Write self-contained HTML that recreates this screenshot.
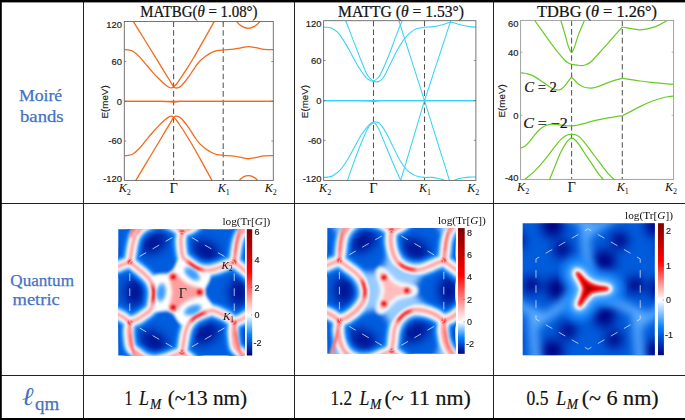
<!DOCTYPE html>
<html><head><meta charset="utf-8"><title>Moire bands and quantum metric</title>
<style>
html,body{margin:0;padding:0;background:#fff;}
body{width:685px;height:420px;overflow:hidden;font-family:"Liberation Sans",sans-serif;}
svg{display:block;}
</style></head><body>
<svg width="685" height="420" viewBox="0 0 685 420">
<rect width="685" height="420" fill="#fff"/>
<g stroke="#222" stroke-width="1" shape-rendering="crispEdges">
<line x1="83.5" y1="0" x2="83.5" y2="420"/>
<line x1="294.5" y1="0" x2="294.5" y2="420"/>
<line x1="493.5" y1="0" x2="493.5" y2="420"/>
<line x1="0" y1="203.5" x2="685" y2="203.5"/>
<line x1="0" y1="375.5" x2="685" y2="375.5"/>
</g>
<rect x="0" y="0" width="685" height="2.4" fill="#000"/>
<rect x="0" y="0" width="1.8" height="420" fill="#000"/>
<rect x="0" y="418" width="685" height="2" fill="#000"/>
<text x="18.90" y="101.40" font-family="Liberation Serif, serif" font-size="17.00" fill="#4472C4" textLength="43.30" lengthAdjust="spacingAndGlyphs" stroke="#4472C4" stroke-width="0.25" xml:space="preserve" >Moiré</text>
<text x="20.00" y="122.10" font-family="Liberation Serif, serif" font-size="17.00" fill="#4472C4" textLength="43.60" lengthAdjust="spacingAndGlyphs" stroke="#4472C4" stroke-width="0.25" xml:space="preserve" >bands</text>
<text x="10.30" y="285.70" font-family="Liberation Serif, serif" font-size="17.00" fill="#4472C4" textLength="63.70" lengthAdjust="spacingAndGlyphs" stroke="#4472C4" stroke-width="0.25" xml:space="preserve" >Quantum</text>
<text x="12.60" y="304.60" font-family="Liberation Serif, serif" font-size="17.00" fill="#4472C4" textLength="47.10" lengthAdjust="spacingAndGlyphs" stroke="#4472C4" stroke-width="0.25" xml:space="preserve" >metric</text>
<text x="21.80" y="405.20" font-family="Liberation Serif, serif" font-size="25.50" fill="#4472C4" font-style="italic" textLength="11.50" lengthAdjust="spacingAndGlyphs" xml:space="preserve" >ℓ</text>
<text x="35.00" y="409.60" font-family="Liberation Serif, serif" font-size="19.50" fill="#4472C4" textLength="24.20" lengthAdjust="spacingAndGlyphs" stroke="#4472C4" stroke-width="0.25" xml:space="preserve" >qm</text>
<text x="124.60" y="405.20" font-family="Liberation Serif, serif" font-size="20.60" fill="#111" textLength="8.00" lengthAdjust="spacingAndGlyphs" stroke="#111" stroke-width="0.20" xml:space="preserve" >1</text>
<text x="138.90" y="405.20" font-family="Liberation Serif, serif" font-size="20.60" fill="#111" font-style="italic" textLength="9.90" lengthAdjust="spacingAndGlyphs" stroke="#111" stroke-width="0.20" xml:space="preserve" >L</text>
<text x="150.00" y="409.30" font-family="Liberation Serif, serif" font-size="14.20" fill="#111" font-style="italic" textLength="11.20" lengthAdjust="spacingAndGlyphs" stroke="#111" stroke-width="0.20" xml:space="preserve" >M</text>
<text x="167.80" y="405.20" font-family="Liberation Serif, serif" font-size="20.60" fill="#111" textLength="79.30" lengthAdjust="spacingAndGlyphs" stroke="#111" stroke-width="0.20" xml:space="preserve" >(~13 nm)</text>
<text x="330.50" y="405.20" font-family="Liberation Serif, serif" font-size="20.60" fill="#111" textLength="21.50" lengthAdjust="spacingAndGlyphs" stroke="#111" stroke-width="0.20" xml:space="preserve" >1.2</text>
<text x="359.40" y="405.20" font-family="Liberation Serif, serif" font-size="20.60" fill="#111" font-style="italic" textLength="9.90" lengthAdjust="spacingAndGlyphs" stroke="#111" stroke-width="0.20" xml:space="preserve" >L</text>
<text x="370.00" y="409.30" font-family="Liberation Serif, serif" font-size="14.20" fill="#111" font-style="italic" textLength="11.20" lengthAdjust="spacingAndGlyphs" stroke="#111" stroke-width="0.20" xml:space="preserve" >M</text>
<text x="384.40" y="405.20" font-family="Liberation Serif, serif" font-size="20.60" fill="#111" textLength="86.40" lengthAdjust="spacingAndGlyphs" stroke="#111" stroke-width="0.20" xml:space="preserve" >(~ 11 nm)</text>
<text x="526.50" y="405.20" font-family="Liberation Serif, serif" font-size="20.60" fill="#111" textLength="21.90" lengthAdjust="spacingAndGlyphs" stroke="#111" stroke-width="0.20" xml:space="preserve" >0.5</text>
<text x="556.20" y="405.20" font-family="Liberation Serif, serif" font-size="20.60" fill="#111" font-style="italic" textLength="9.90" lengthAdjust="spacingAndGlyphs" stroke="#111" stroke-width="0.20" xml:space="preserve" >L</text>
<text x="566.80" y="409.30" font-family="Liberation Serif, serif" font-size="14.20" fill="#111" font-style="italic" textLength="11.20" lengthAdjust="spacingAndGlyphs" stroke="#111" stroke-width="0.20" xml:space="preserve" >M</text>
<text x="581.70" y="405.20" font-family="Liberation Serif, serif" font-size="20.60" fill="#111" textLength="77.00" lengthAdjust="spacingAndGlyphs" stroke="#111" stroke-width="0.20" xml:space="preserve" >(~ 6 nm)</text>
<clipPath id="c124"><rect x="124.30" y="21.50" width="149.00" height="158.90"/></clipPath>
<g stroke="#555" stroke-width="1.05" stroke-dasharray="5.6,3.1">
<line x1="173.60" y1="21.50" x2="173.60" y2="180.40"/>
<line x1="223.20" y1="21.50" x2="223.20" y2="180.40"/>
</g>
<g clip-path="url(#c124)" fill="none" stroke="#F26A1B" stroke-width="1.30" stroke-linejoin="round">
<path d="M124.30,49.70C125.00,49.73 127.07,49.65 128.50,49.90C129.93,50.15 131.10,50.08 132.90,51.20C134.70,52.32 137.17,54.45 139.30,56.60C141.43,58.75 143.57,61.60 145.70,64.10C147.83,66.60 149.95,69.20 152.10,71.60C154.25,74.00 156.45,76.37 158.60,78.50C160.75,80.63 163.27,82.93 165.00,84.40C166.73,85.87 167.90,86.72 169.00,87.30C170.10,87.88 170.83,87.98 171.60,87.90C172.37,87.82 172.78,87.45 173.60,86.80C174.42,86.15 175.43,85.28 176.50,84.00C177.57,82.72 178.35,81.53 180.00,79.10C181.65,76.67 184.25,72.75 186.40,69.40C188.55,66.05 190.65,62.75 192.90,59.00C195.15,55.25 196.33,53.17 199.90,46.90C203.47,40.63 210.95,27.38 214.30,21.40C217.65,15.42 219.05,12.73 220.00,11.00"/>
<path d="M127.50,11.00C128.47,12.73 130.98,17.48 133.30,21.40C135.62,25.32 138.62,29.98 141.40,34.50C144.18,39.02 147.13,43.85 150.00,48.50C152.87,53.15 156.10,58.33 158.60,62.40C161.10,66.47 163.03,69.72 165.00,72.90C166.97,76.08 169.00,79.22 170.40,81.50C171.80,83.78 172.53,85.53 173.40,86.60C174.27,87.67 174.75,87.73 175.60,87.90C176.45,88.07 177.42,88.08 178.50,87.60C179.58,87.12 180.42,86.78 182.10,85.00C183.78,83.22 186.45,79.85 188.60,76.90C190.75,73.95 193.12,69.95 195.00,67.30C196.88,64.65 198.07,62.88 199.90,61.00C201.73,59.12 204.07,57.38 206.00,56.00C207.93,54.62 209.67,53.58 211.50,52.70C213.33,51.82 215.05,51.17 217.00,50.70C218.95,50.23 220.42,50.17 223.20,49.90C225.98,49.63 230.57,49.47 233.70,49.10C236.83,48.73 239.55,48.12 242.00,47.70C244.45,47.28 246.08,46.60 248.40,46.60C250.72,46.60 253.27,47.23 255.90,47.70C258.53,48.17 261.25,49.07 264.20,49.40C267.15,49.73 272.03,49.65 273.60,49.70"/>
<path d="M233.50,15.00C234.00,16.07 235.08,19.50 236.50,21.40C237.92,23.30 240.02,25.25 242.00,26.40C243.98,27.55 246.32,28.30 248.40,28.30C250.48,28.30 252.57,27.55 254.50,26.40C256.43,25.25 258.58,23.30 260.00,21.40C261.42,19.50 262.50,16.07 263.00,15.00"/>
<path d="M124.30,155.55C125.00,155.51 127.07,155.60 128.50,155.34C129.93,155.08 131.10,155.15 132.90,154.00C134.70,152.85 137.17,150.65 139.30,148.44C141.43,146.22 143.57,143.29 145.70,140.71C147.83,138.14 149.95,135.46 152.10,132.99C154.25,130.52 156.45,128.08 158.60,125.88C160.75,123.68 163.27,121.31 165.00,119.80C166.73,118.29 167.90,117.42 169.00,116.82C170.10,116.22 170.83,116.11 171.60,116.20C172.37,116.28 172.78,116.66 173.60,117.33C174.42,118.00 175.43,118.89 176.50,120.22C177.57,121.54 178.35,122.76 180.00,125.26C181.65,127.77 184.25,131.80 186.40,135.25C188.55,138.70 190.65,142.10 192.90,145.97C195.15,149.83 196.33,151.97 199.90,158.43C203.47,164.88 210.95,178.53 214.30,184.69C217.65,190.86 219.05,193.62 220.00,195.41"/>
<path d="M127.50,195.41C128.47,193.62 130.98,188.73 133.30,184.69C135.62,180.66 138.62,175.85 141.40,171.20C144.18,166.55 147.13,161.57 150.00,156.78C152.87,151.99 156.10,146.65 158.60,142.46C161.10,138.28 163.03,134.93 165.00,131.65C166.97,128.37 169.00,125.14 170.40,122.79C171.80,120.44 172.53,118.64 173.40,117.54C174.27,116.44 174.75,116.37 175.60,116.20C176.45,116.03 177.42,116.01 178.50,116.51C179.58,117.01 180.42,117.35 182.10,119.19C183.78,121.02 186.45,124.49 188.60,127.53C190.75,130.57 193.12,134.69 195.00,137.42C196.88,140.15 198.07,141.97 199.90,143.91C201.73,145.85 204.07,147.63 206.00,149.06C207.93,150.48 209.67,151.55 211.50,152.46C213.33,153.36 215.05,154.03 217.00,154.52C218.95,155.00 220.42,155.06 223.20,155.34C225.98,155.61 230.57,155.79 233.70,156.16C236.83,156.54 239.55,157.18 242.00,157.61C244.45,158.03 246.08,158.74 248.40,158.74C250.72,158.74 253.27,158.09 255.90,157.61C258.53,157.12 261.25,156.20 264.20,155.85C267.15,155.51 272.03,155.60 273.60,155.55"/>
<path d="M236.50,187.00C236.98,185.90 238.23,182.08 239.40,180.40C240.57,178.72 242.02,177.68 243.50,176.90C244.98,176.12 246.68,175.70 248.30,175.70C249.92,175.70 251.67,176.12 253.20,176.90C254.73,177.68 256.28,178.72 257.50,180.40C258.72,182.08 260.00,185.90 260.50,187.00"/>
<path d="M124.30,101.30C130.25,101.31 152.72,101.28 160.00,101.35C167.28,101.42 165.75,101.58 168.00,101.70C170.25,101.83 171.67,102.10 173.50,102.10C175.33,102.10 176.58,101.83 179.00,101.70C181.42,101.58 172.23,101.42 188.00,101.35C203.77,101.28 259.33,101.31 273.60,101.30"/>
<path d="M124.30,101.30C149.18,101.30 248.72,101.30 273.60,101.30"/>
</g>
<rect x="124.30" y="21.50" width="149.00" height="158.90" fill="none" stroke="#666" stroke-width="0.9"/>
<g stroke="#666" stroke-width="0.7">
<line x1="124.30" y1="61.50" x2="126.30" y2="61.50"/>
<line x1="271.30" y1="61.50" x2="273.30" y2="61.50"/>
<line x1="124.30" y1="101.20" x2="126.30" y2="101.20"/>
<line x1="271.30" y1="101.20" x2="273.30" y2="101.20"/>
<line x1="124.30" y1="141.00" x2="126.30" y2="141.00"/>
<line x1="271.30" y1="141.00" x2="273.30" y2="141.00"/>
<line x1="173.60" y1="178.40" x2="173.60" y2="180.40"/>
<line x1="173.60" y1="21.50" x2="173.60" y2="23.50"/>
<line x1="223.20" y1="178.40" x2="223.20" y2="180.40"/>
<line x1="223.20" y1="21.50" x2="223.20" y2="23.50"/>
</g>
<g font-family="Liberation Sans, sans-serif" font-size="9.4" fill="#1c1c1c" stroke="#1c1c1c" stroke-width="0.18" text-anchor="end">
<text x="121.90" y="28.35">120</text>
<text x="121.90" y="64.85">60</text>
<text x="121.90" y="104.55">0</text>
<text x="121.90" y="144.35">-60</text>
<text x="121.90" y="182.25">-120</text>
</g>
<text transform="translate(108.00,101.95) rotate(-90)" font-family="Liberation Sans, sans-serif" font-size="9.8" fill="#1c1c1c" stroke="#1c1c1c" stroke-width="0.15" text-anchor="middle">E(meV)</text>
<text x="124.80" y="192.30" font-family="Liberation Serif, serif" font-size="12.2" fill="#111" text-anchor="middle"><tspan font-style="italic">K</tspan><tspan font-size="8" dy="2.4">2</tspan></text>
<text x="223.70" y="192.30" font-family="Liberation Serif, serif" font-size="12.2" fill="#111" text-anchor="middle"><tspan font-style="italic">K</tspan><tspan font-size="8" dy="2.4">1</tspan></text>
<text x="270.70" y="192.30" font-family="Liberation Serif, serif" font-size="12.2" fill="#111" text-anchor="middle"><tspan font-style="italic">K</tspan><tspan font-size="8" dy="2.4">2</tspan></text>
<text x="173.60" y="192.80" font-family="Liberation Serif, serif" font-size="14.5" fill="#111" text-anchor="middle">Γ</text>
<text x="140.30" y="17.10" font-family="Liberation Serif, serif" font-size="16.2" fill="#111" stroke="#111" stroke-width="0.22" textLength="117.20" lengthAdjust="spacingAndGlyphs" xml:space="preserve">MATBG(<tspan font-style="italic">θ</tspan> = 1.08°)</text>
<clipPath id="c323"><rect x="323.60" y="20.70" width="152.30" height="159.70"/></clipPath>
<g stroke="#555" stroke-width="1.05" stroke-dasharray="5.6,3.1">
<line x1="373.50" y1="20.70" x2="373.50" y2="180.40"/>
<line x1="424.50" y1="20.70" x2="424.50" y2="180.40"/>
</g>
<g clip-path="url(#c323)" fill="none" stroke="#35D3F5" stroke-width="1.05" stroke-linejoin="round">
<path d="M323.58,27.18C324.27,27.21 326.35,27.14 327.74,27.32C329.13,27.51 330.28,27.48 331.90,28.29C333.52,29.10 335.37,29.96 337.45,32.18C339.53,34.40 342.07,37.96 344.38,41.61C346.69,45.26 349.01,49.93 351.32,54.09C353.63,58.25 355.94,62.83 358.25,66.57C360.56,70.32 363.34,74.29 365.19,76.56C367.04,78.83 368.19,79.38 369.35,80.17C370.50,80.95 371.29,81.18 372.12,81.28C372.95,81.37 373.51,81.18 374.34,80.72C375.17,80.26 376.10,79.57 377.12,78.50C378.13,77.44 378.50,78.18 380.44,74.34C382.39,70.50 386.22,61.72 388.77,55.48C391.31,49.24 393.39,42.90 395.70,36.89C398.01,30.88 401.02,23.49 402.64,19.42C404.25,15.35 404.95,13.64 405.41,12.48"/>
<path d="M343.00,13.87C343.46,15.03 344.15,16.64 345.77,20.80C347.39,24.97 350.39,32.82 352.70,38.83C355.02,44.85 357.33,51.09 359.64,56.87C361.95,62.64 364.72,69.81 366.57,73.51C368.42,77.21 369.58,77.81 370.74,79.06C371.89,80.31 372.58,80.54 373.51,81.00C374.43,81.46 375.36,81.78 376.28,81.83C377.21,81.88 377.90,81.97 379.06,81.28C380.21,80.58 381.37,80.49 383.22,77.67C385.07,74.85 387.84,68.89 390.15,64.36C392.46,59.82 394.78,54.65 397.09,50.49C399.40,46.32 401.71,42.44 404.02,39.39C406.33,36.34 408.88,33.93 410.96,32.18C413.04,30.42 414.24,29.68 416.50,28.85C418.77,28.02 421.78,27.55 424.55,27.18C427.32,26.81 430.33,27.00 433.15,26.63C435.97,26.26 438.93,25.61 441.47,24.97C444.01,24.32 446.79,23.21 448.40,22.75C450.02,22.28 450.02,22.10 451.18,22.19C452.33,22.28 453.49,22.79 455.34,23.30C457.19,23.81 459.96,24.69 462.27,25.24C464.59,25.80 466.85,26.30 469.21,26.63C471.57,26.96 475.22,27.14 476.42,27.24"/>
<path d="M398.20,18.70 L424.50,100.60 L450.07,182.40"/>
<path d="M451.46,18.70 L424.50,100.60 L400.14,182.40"/>
<path d="M323.58,177.39C324.27,177.34 326.12,177.43 327.74,177.11C329.36,176.78 331.21,176.65 333.29,175.44C335.37,174.24 337.91,172.44 340.22,169.90C342.53,167.35 344.85,163.89 347.16,160.19C349.47,156.49 351.78,151.87 354.09,147.70C356.40,143.54 358.71,138.83 361.03,135.22C363.34,131.62 366.20,128.15 367.96,126.07C369.72,123.99 370.50,123.43 371.57,122.74C372.63,122.05 373.42,122.00 374.34,121.91C375.27,121.81 376.10,121.77 377.12,122.18C378.13,122.60 378.96,122.69 380.44,124.40C381.92,126.11 383.91,128.80 385.99,132.45C388.07,136.10 390.61,141.69 392.93,146.32C395.24,150.94 397.55,156.26 399.86,160.19C402.17,164.12 404.48,167.45 406.80,169.90C409.11,172.35 411.65,173.73 413.73,174.89C415.81,176.04 417.48,176.41 419.28,176.83C421.08,177.25 422.47,177.29 424.55,177.39C426.63,177.48 429.63,177.25 431.76,177.39C433.89,177.52 435.69,177.89 437.31,178.22C438.93,178.54 440.31,178.96 441.47,179.33C442.63,179.70 443.32,180.07 444.24,180.44C445.17,180.81 446.56,181.36 447.02,181.55"/>
<path d="M452.01,181.55C452.47,181.32 453.77,180.62 454.79,180.16C455.80,179.70 456.63,179.19 458.11,178.77C459.59,178.36 461.81,177.94 463.66,177.66C465.51,177.39 467.08,177.20 469.21,177.11C471.34,177.02 475.22,177.11 476.42,177.11"/>
<path d="M345.77,185.15C346.09,184.23 346.32,183.53 347.71,179.60C349.10,175.67 351.87,167.58 354.09,161.57C356.31,155.56 358.71,149.09 361.03,143.54C363.34,138.00 366.20,131.57 367.96,128.29C369.72,125.00 370.64,124.73 371.57,123.85C372.49,122.97 372.86,123.02 373.51,123.02C374.16,123.02 374.53,122.74 375.45,123.85C376.38,124.96 377.30,125.93 379.06,129.67C380.81,133.42 383.68,140.77 385.99,146.32C388.30,151.87 390.85,158.11 392.93,162.96C395.01,167.82 397.23,172.67 398.47,175.44C399.72,178.22 399.82,178.22 400.42,179.60C401.02,180.99 401.80,183.07 402.08,183.77"/>
<path d="M323.60,100.60C329.33,100.62 350.60,100.62 358.00,100.70C365.40,100.78 365.42,100.97 368.00,101.10C370.58,101.23 371.67,101.50 373.50,101.50C375.33,101.50 376.42,101.23 379.00,101.10C381.58,100.97 372.80,100.78 389.00,100.70C405.20,100.62 461.67,100.62 476.20,100.60"/>
<path d="M323.60,100.60C349.03,100.60 450.77,100.60 476.20,100.60"/>
</g>
<rect x="323.60" y="20.70" width="152.30" height="159.70" fill="none" stroke="#666" stroke-width="0.9"/>
<g stroke="#666" stroke-width="0.7">
<line x1="323.60" y1="60.50" x2="325.60" y2="60.50"/>
<line x1="473.90" y1="60.50" x2="475.90" y2="60.50"/>
<line x1="323.60" y1="100.60" x2="325.60" y2="100.60"/>
<line x1="473.90" y1="100.60" x2="475.90" y2="100.60"/>
<line x1="323.60" y1="140.30" x2="325.60" y2="140.30"/>
<line x1="473.90" y1="140.30" x2="475.90" y2="140.30"/>
<line x1="373.50" y1="178.40" x2="373.50" y2="180.40"/>
<line x1="373.50" y1="20.70" x2="373.50" y2="22.70"/>
<line x1="424.50" y1="178.40" x2="424.50" y2="180.40"/>
<line x1="424.50" y1="20.70" x2="424.50" y2="22.70"/>
</g>
<g font-family="Liberation Sans, sans-serif" font-size="9.4" fill="#1c1c1c" stroke="#1c1c1c" stroke-width="0.18" text-anchor="end">
<text x="321.50" y="26.95">120</text>
<text x="321.50" y="63.85">60</text>
<text x="321.50" y="103.95">0</text>
<text x="321.50" y="143.65">-60</text>
<text x="321.50" y="181.75">-120</text>
</g>
<text transform="translate(308.00,101.55) rotate(-90)" font-family="Liberation Sans, sans-serif" font-size="9.8" fill="#1c1c1c" stroke="#1c1c1c" stroke-width="0.15" text-anchor="middle">E(meV)</text>
<text x="325.10" y="192.30" font-family="Liberation Serif, serif" font-size="12.2" fill="#111" text-anchor="middle"><tspan font-style="italic">K</tspan><tspan font-size="8" dy="2.4">2</tspan></text>
<text x="425.00" y="192.30" font-family="Liberation Serif, serif" font-size="12.2" fill="#111" text-anchor="middle"><tspan font-style="italic">K</tspan><tspan font-size="8" dy="2.4">1</tspan></text>
<text x="473.30" y="192.30" font-family="Liberation Serif, serif" font-size="12.2" fill="#111" text-anchor="middle"><tspan font-style="italic">K</tspan><tspan font-size="8" dy="2.4">2</tspan></text>
<text x="373.50" y="192.80" font-family="Liberation Serif, serif" font-size="14.5" fill="#111" text-anchor="middle">Γ</text>
<text x="338.10" y="16.50" font-family="Liberation Serif, serif" font-size="16.2" fill="#111" stroke="#111" stroke-width="0.22" textLength="125.90" lengthAdjust="spacingAndGlyphs" xml:space="preserve">MATTG (<tspan font-style="italic">θ</tspan> = 1.53°)</text>
<clipPath id="c520"><rect x="520.60" y="20.40" width="153.00" height="159.00"/></clipPath>
<g stroke="#555" stroke-width="1.05" stroke-dasharray="5.6,3.1">
<line x1="571.60" y1="20.40" x2="571.60" y2="179.40"/>
<line x1="622.30" y1="20.40" x2="622.30" y2="179.40"/>
</g>
<g clip-path="url(#c520)" fill="none" stroke="#69CB25" stroke-width="1.20" stroke-linejoin="round">
<path d="M558.06,12.15C558.51,13.50 559.64,16.65 560.76,20.25C561.89,23.85 563.60,29.57 564.81,33.76C566.03,37.94 567.15,42.53 568.05,45.37C568.95,48.20 569.63,49.55 570.21,50.77C570.80,51.98 571.11,52.66 571.56,52.66C572.01,52.66 572.33,51.98 572.91,50.77C573.50,49.55 574.17,47.98 575.07,45.37C575.97,42.76 576.74,39.29 578.31,35.11C579.89,30.92 583.09,23.85 584.53,20.25C585.97,16.65 586.55,14.63 586.96,13.50"/>
<path d="M529.71,13.50C530.52,14.63 532.32,17.10 534.57,20.25C536.82,23.40 539.97,27.91 543.21,32.41C546.45,36.91 550.41,42.62 554.01,47.26C557.61,51.89 562.34,57.57 564.81,60.22C567.29,62.88 567.74,62.52 568.86,63.19C569.99,63.87 571.11,64.09 571.56,64.27"/>
<path d="M571.56,64.27C572.46,64.41 575.16,64.86 576.96,65.08C578.76,65.31 580.79,65.71 582.37,65.62C583.94,65.53 584.84,65.31 586.42,64.54C587.99,63.78 589.12,63.60 591.82,61.03C594.52,58.47 599.02,53.16 602.62,49.15C606.22,45.14 610.14,40.69 613.42,37.00C616.71,33.31 620.85,28.67 622.33,27.01"/>
<path d="M622.33,27.01C623.55,27.23 627.28,27.95 629.62,28.36C631.97,28.76 634.35,29.21 636.38,29.44C638.40,29.66 639.30,29.98 641.78,29.71C644.25,29.44 648.30,28.63 651.23,27.82C654.15,27.01 656.63,26.10 659.33,24.84C662.03,23.58 665.41,21.60 667.43,20.25C669.46,18.90 670.81,17.33 671.48,16.74"/>
<path d="M520.52,72.81C521.60,72.96 524.80,73.17 527.01,73.72C529.21,74.28 531.06,74.71 533.76,76.15C536.46,77.59 540.28,80.39 543.21,82.37C546.13,84.35 549.06,86.78 551.31,88.04C553.56,89.30 555.14,89.70 556.71,89.93C558.29,90.15 559.41,90.06 560.76,89.39C562.11,88.71 563.46,87.36 564.81,85.88C566.16,84.39 567.74,81.96 568.86,80.48C569.99,78.99 571.11,77.55 571.56,76.96"/>
<path d="M571.56,76.96C572.01,77.46 573.14,78.76 574.26,79.94C575.39,81.11 576.74,82.82 578.31,83.99C579.89,85.16 581.69,86.28 583.72,86.96C585.74,87.63 588.44,87.99 590.47,88.04C592.49,88.08 592.94,88.13 595.87,87.23C598.79,86.33 604.64,83.85 608.02,82.64C611.40,81.42 613.74,80.66 616.12,79.94C618.51,79.22 621.30,78.58 622.33,78.31"/>
<path d="M622.33,78.31C623.55,78.49 626.61,78.94 629.62,79.40C632.64,79.85 636.83,80.52 640.43,81.02C644.03,81.51 647.63,81.96 651.23,82.37C654.83,82.77 658.25,83.12 662.03,83.45C665.81,83.77 671.93,84.19 673.91,84.34"/>
<path d="M520.52,148.07C521.24,147.77 523.31,147.41 524.84,146.31C526.38,145.21 528.00,143.43 529.71,141.45C531.42,139.47 533.31,136.54 535.11,134.43C536.91,132.31 538.71,130.24 540.51,128.76C542.31,127.27 544.11,126.28 545.91,125.52C547.71,124.75 549.28,124.30 551.31,124.17C553.34,124.03 555.81,124.48 558.06,124.71C560.31,124.93 562.56,125.29 564.81,125.52C567.06,125.74 570.44,125.97 571.56,126.06"/>
<path d="M571.56,126.06C572.46,125.92 574.94,125.65 576.96,125.25C578.99,124.84 580.79,124.39 583.72,123.63C586.64,122.86 590.47,121.60 594.52,120.65C598.57,119.71 604.42,118.63 608.02,117.95C611.62,117.28 613.74,116.96 616.12,116.60C618.51,116.24 621.30,115.93 622.33,115.79"/>
<path d="M622.33,115.79C623.55,115.16 626.61,113.59 629.62,112.01C632.64,110.44 636.83,108.10 640.43,106.34C644.03,104.59 647.63,102.88 651.23,101.48C654.83,100.09 659.11,98.78 662.03,97.97C664.96,97.16 666.80,96.93 668.78,96.62C670.76,96.31 673.06,96.22 673.91,96.13"/>
<path d="M521.60,182.77C522.28,182.09 523.40,180.74 525.65,178.72C527.91,176.69 531.73,173.99 535.11,170.61C538.48,167.24 542.76,162.29 545.91,158.46C549.06,154.64 551.53,150.81 554.01,147.66C556.49,144.51 558.74,141.58 560.76,139.56C562.79,137.53 564.50,136.36 566.16,135.51C567.83,134.65 569.27,134.56 570.75,134.43C572.24,134.29 573.59,134.25 575.07,134.70C576.56,135.15 577.77,135.42 579.67,137.13C581.56,138.84 583.94,141.85 586.42,144.96C588.89,148.07 591.82,152.16 594.52,155.76C597.22,159.36 600.14,163.37 602.62,166.56C605.09,169.76 607.57,172.91 609.37,174.94C611.17,176.96 612.07,177.55 613.42,178.72C614.77,179.89 616.80,181.42 617.47,181.96"/>
<path d="M548.61,182.77C548.83,182.09 548.83,181.64 549.96,178.72C551.08,175.79 553.56,169.62 555.36,165.21C557.16,160.80 558.96,155.99 560.76,152.25C562.56,148.52 564.68,145.00 566.16,142.80C567.65,140.59 568.73,139.78 569.67,139.02C570.62,138.25 571.07,138.16 571.83,138.21C572.60,138.25 573.18,138.39 574.26,139.29C575.34,140.19 576.74,141.54 578.31,143.61C579.89,145.68 581.47,148.34 583.72,151.71C585.97,155.09 589.34,160.17 591.82,163.86C594.29,167.55 596.77,171.38 598.57,173.85C600.37,176.33 601.49,177.37 602.62,178.72C603.74,180.07 604.87,181.42 605.32,181.96"/>
</g>
<rect x="520.60" y="20.40" width="153.00" height="159.00" fill="none" stroke="#999" stroke-width="0.9"/>
<g stroke="#999" stroke-width="0.7">
<line x1="520.60" y1="52.20" x2="522.60" y2="52.20"/>
<line x1="671.60" y1="52.20" x2="673.60" y2="52.20"/>
<line x1="520.60" y1="115.30" x2="522.60" y2="115.30"/>
<line x1="671.60" y1="115.30" x2="673.60" y2="115.30"/>
<line x1="571.60" y1="177.40" x2="571.60" y2="179.40"/>
<line x1="571.60" y1="20.40" x2="571.60" y2="22.40"/>
<line x1="622.30" y1="177.40" x2="622.30" y2="179.40"/>
<line x1="622.30" y1="20.40" x2="622.30" y2="22.40"/>
</g>
<g font-family="Liberation Sans, sans-serif" font-size="9.4" fill="#1c1c1c" stroke="#1c1c1c" stroke-width="0.18" text-anchor="end">
<text x="518.50" y="26.85">60</text>
<text x="518.50" y="55.55">40</text>
<text x="518.50" y="118.65">0</text>
<text x="518.50" y="181.15">-40</text>
</g>
<text transform="translate(505.40,100.90) rotate(-90)" font-family="Liberation Sans, sans-serif" font-size="9.8" fill="#1c1c1c" stroke="#1c1c1c" stroke-width="0.15" text-anchor="middle">E(meV)</text>
<text x="523.10" y="191.30" font-family="Liberation Serif, serif" font-size="12.2" fill="#111" text-anchor="middle"><tspan font-style="italic">K</tspan><tspan font-size="8" dy="2.4">2</tspan></text>
<text x="622.80" y="191.30" font-family="Liberation Serif, serif" font-size="12.2" fill="#111" text-anchor="middle"><tspan font-style="italic">K</tspan><tspan font-size="8" dy="2.4">1</tspan></text>
<text x="671.00" y="191.30" font-family="Liberation Serif, serif" font-size="12.2" fill="#111" text-anchor="middle"><tspan font-style="italic">K</tspan><tspan font-size="8" dy="2.4">2</tspan></text>
<text x="571.60" y="191.80" font-family="Liberation Serif, serif" font-size="14.5" fill="#111" text-anchor="middle">Γ</text>
<text x="537.00" y="16.50" font-family="Liberation Serif, serif" font-size="16.2" fill="#111" stroke="#111" stroke-width="0.22" textLength="120.00" lengthAdjust="spacingAndGlyphs" xml:space="preserve">TDBG (<tspan font-style="italic">θ</tspan> = 1.26°)</text>
<text x="524.3" y="91.5" font-family="Liberation Serif, serif" font-size="14.2" fill="#111" stroke="#111" stroke-width="0.2" textLength="32.6" lengthAdjust="spacingAndGlyphs" xml:space="preserve"><tspan font-style="italic">C</tspan> = 2</text>
<text x="523.2" y="128.2" font-family="Liberation Serif, serif" font-size="14.2" fill="#111" stroke="#111" stroke-width="0.2" textLength="44.6" lengthAdjust="spacingAndGlyphs" xml:space="preserve"><tspan font-style="italic">C</tspan> = −2</text>
<!--HEATMAPS-->
<defs>
<clipPath id="hc1"><rect x="118.30" y="229.30" width="126.70" height="126.20"/></clipPath>
<filter id="hb1" x="-60%" y="-60%" width="220%" height="220%" color-interpolation-filters="sRGB"><feGaussianBlur stdDeviation="1.10"/></filter>
<filter id="hbb1" x="-60%" y="-60%" width="220%" height="220%" color-interpolation-filters="sRGB"><feGaussianBlur stdDeviation="5.50"/></filter>
<filter id="hbw1" x="-60%" y="-60%" width="220%" height="220%" color-interpolation-filters="sRGB"><feGaussianBlur stdDeviation="1.60"/></filter>
<filter id="hbd1" x="-60%" y="-60%" width="220%" height="220%" color-interpolation-filters="sRGB"><feGaussianBlur stdDeviation="1.00"/></filter>
<filter id="hbs1" x="-60%" y="-60%" width="220%" height="220%" color-interpolation-filters="sRGB"><feGaussianBlur stdDeviation="1.70"/></filter>
<filter id="hbt1" x="-60%" y="-60%" width="220%" height="220%" color-interpolation-filters="sRGB"><feGaussianBlur stdDeviation="1.60"/></filter>
<g id="sA1"><path d="M0.00,60.30C-0.20,58.87 -1.10,54.63 -1.20,51.70C-1.30,48.77 -0.88,45.27 -0.60,42.70C-0.32,40.13 -0.02,37.87 0.50,36.30C1.02,34.73 1.68,34.23 2.50,33.30C3.32,32.37 4.17,31.70 5.40,30.70C6.63,29.70 8.25,28.43 9.90,27.30C11.55,26.17 13.33,24.78 15.30,23.90C17.27,23.02 19.58,22.33 21.70,22.00C23.82,21.67 25.75,21.62 28.00,21.90C30.25,22.18 32.78,22.95 35.20,23.70C37.62,24.45 40.23,25.53 42.50,26.40C44.77,27.27 47.18,28.27 48.80,28.90C50.42,29.52 51.63,29.94 52.20,30.15"/><path d="M-52.22,-30.15C-50.88,-29.61 -46.76,-28.27 -44.17,-26.89C-41.58,-25.51 -38.76,-23.40 -36.68,-21.87C-34.60,-20.34 -32.79,-18.95 -31.69,-17.72C-30.59,-16.49 -30.49,-15.66 -30.09,-14.48C-29.69,-13.31 -29.54,-12.24 -29.29,-10.67C-29.04,-9.11 -28.75,-7.07 -28.59,-5.08C-28.44,-3.08 -28.13,-0.84 -28.35,1.30C-28.57,3.45 -29.13,5.79 -29.90,7.79C-30.67,9.79 -31.60,11.49 -32.97,13.30C-34.34,15.11 -36.27,16.92 -38.12,18.63C-39.98,20.35 -42.23,22.08 -44.11,23.61C-46.00,25.14 -48.08,26.72 -49.43,27.81C-50.78,28.90 -51.75,29.74 -52.21,30.13"/><path d="M52.22,-30.15C51.08,-29.26 47.86,-26.36 45.37,-24.81C42.88,-23.26 39.64,-21.87 37.28,-20.83C34.91,-19.79 32.80,-18.92 31.19,-18.58C29.57,-18.25 28.81,-18.57 27.59,-18.82C26.37,-19.06 25.37,-19.46 23.89,-20.03C22.40,-20.59 20.50,-21.36 18.69,-22.22C16.89,-23.09 14.80,-23.94 13.05,-25.20C11.30,-26.46 9.55,-28.13 8.20,-29.79C6.86,-31.46 5.85,-33.11 4.97,-35.20C4.09,-37.29 3.48,-39.87 2.92,-42.33C2.37,-44.80 2.00,-47.61 1.61,-50.01C1.23,-52.40 0.90,-55.00 0.63,-56.71C0.36,-58.42 0.11,-59.69 0.01,-60.28"/></g>
<g id="sR1_0"><path d="M5.40,30.70 L5.74,30.44 L6.19,30.09 L6.72,29.67 L7.31,29.21 L7.95,28.72 L8.61,28.23 L9.26,27.75 L9.90,27.30 L10.53,26.86 L11.16,26.41 L11.82,25.96 L12.48,25.51 L13.16,25.07 L13.86,24.64 L14.57,24.25 L15.30,23.90 L16.10,23.58 L16.98,23.27 L17.91,22.99 L18.84,22.74 L19.72,22.51 L20.53,22.31 L21.20,22.14 L21.70,22.00"/><path d="M-29.29,-10.67 L-29.23,-10.25 L-29.15,-9.69 L-29.06,-9.02 L-28.96,-8.27 L-28.85,-7.48 L-28.75,-6.66 L-28.66,-5.85 L-28.59,-5.08 L-28.53,-4.32 L-28.46,-3.54 L-28.39,-2.75 L-28.33,-1.94 L-28.29,-1.13 L-28.27,-0.32 L-28.29,0.49 L-28.35,1.30 L-28.47,2.15 L-28.65,3.07 L-28.87,4.01 L-29.11,4.95 L-29.35,5.83 L-29.58,6.62 L-29.77,7.29 L-29.90,7.79"/><path d="M23.89,-20.03 L23.49,-20.19 L22.96,-20.40 L22.34,-20.66 L21.64,-20.94 L20.90,-21.25 L20.14,-21.57 L19.40,-21.90 L18.69,-22.22 L18.00,-22.55 L17.29,-22.88 L16.57,-23.21 L15.85,-23.56 L15.13,-23.93 L14.41,-24.32 L13.72,-24.75 L13.05,-25.20 L12.37,-25.73 L11.67,-26.34 L10.96,-27.01 L10.27,-27.68 L9.63,-28.34 L9.05,-28.93 L8.57,-29.43 L8.20,-29.79"/></g>
<g id="sR1_1"><path d="M6.72,29.67 L7.31,29.21 L7.95,28.72 L8.61,28.23 L9.26,27.75 L9.90,27.30 L10.53,26.86 L11.16,26.41 L11.82,25.96 L12.48,25.51 L13.16,25.07 L13.86,24.64 L14.57,24.25 L15.30,23.90 L16.10,23.58 L16.98,23.27 L17.91,22.99 L18.84,22.74 L19.72,22.51"/><path d="M-29.06,-9.02 L-28.96,-8.27 L-28.85,-7.48 L-28.75,-6.66 L-28.66,-5.85 L-28.59,-5.08 L-28.53,-4.32 L-28.46,-3.54 L-28.39,-2.75 L-28.33,-1.94 L-28.29,-1.13 L-28.27,-0.32 L-28.29,0.49 L-28.35,1.30 L-28.47,2.15 L-28.65,3.07 L-28.87,4.01 L-29.11,4.95 L-29.35,5.83"/><path d="M22.34,-20.66 L21.64,-20.94 L20.90,-21.25 L20.14,-21.57 L19.40,-21.90 L18.69,-22.22 L18.00,-22.55 L17.29,-22.88 L16.57,-23.21 L15.85,-23.56 L15.13,-23.93 L14.41,-24.32 L13.72,-24.75 L13.05,-25.20 L12.37,-25.73 L11.67,-26.34 L10.96,-27.01 L10.27,-27.68 L9.63,-28.34"/></g>
<g id="sR1_2"><path d="M8.61,28.23 L9.26,27.75 L9.90,27.30 L10.53,26.86 L11.16,26.41 L11.82,25.96 L12.48,25.51 L13.16,25.07 L13.86,24.64 L14.57,24.25 L15.30,23.90 L16.10,23.58 L16.98,23.27"/><path d="M-28.75,-6.66 L-28.66,-5.85 L-28.59,-5.08 L-28.53,-4.32 L-28.46,-3.54 L-28.39,-2.75 L-28.33,-1.94 L-28.29,-1.13 L-28.27,-0.32 L-28.29,0.49 L-28.35,1.30 L-28.47,2.15 L-28.65,3.07"/><path d="M20.14,-21.57 L19.40,-21.90 L18.69,-22.22 L18.00,-22.55 L17.29,-22.88 L16.57,-23.21 L15.85,-23.56 L15.13,-23.93 L14.41,-24.32 L13.72,-24.75 L13.05,-25.20 L12.37,-25.73 L11.67,-26.34"/></g>
<g id="sL1"><path d="M0.50,36.30C0.42,35.85 0.70,35.55 0.00,33.60C-0.70,31.65 -2.33,27.47 -3.70,24.60C-5.07,21.73 -7.30,17.92 -8.20,16.40C-9.10,14.88 -8.95,15.65 -9.10,15.50"/><path d="M26.20,21.80C25.90,20.45 25.30,16.25 24.40,13.70C23.50,11.15 21.98,8.77 20.80,6.50C19.62,4.23 17.88,1.17 17.30,0.10"/><path d="M-31.69,-17.72C-31.26,-17.56 -31.14,-17.17 -29.10,-16.80C-27.06,-16.43 -22.62,-15.75 -19.45,-15.50C-16.29,-15.25 -11.87,-15.28 -10.10,-15.30C-8.34,-15.32 -9.08,-15.58 -8.87,-15.63"/><path d="M-31.98,11.79C-30.66,12.21 -26.72,13.79 -24.06,14.28C-21.41,14.78 -18.58,14.65 -16.03,14.76C-13.47,14.87 -9.95,14.90 -8.74,14.93"/><path d="M31.19,-18.58C30.84,-18.29 30.44,-18.38 29.10,-16.80C27.76,-15.22 24.95,-11.71 23.15,-9.10C21.35,-6.48 19.17,-2.64 18.30,-1.10C17.44,0.44 18.03,-0.07 17.97,0.13"/><path d="M5.78,-33.59C4.76,-32.66 1.42,-30.04 -0.34,-27.98C-2.09,-25.93 -3.40,-23.42 -4.77,-21.26C-6.14,-19.11 -7.93,-16.07 -8.56,-15.03"/></g>
<g id="sS1"><path d="M0.00,60.30C-0.20,58.87 -1.10,54.63 -1.20,51.70C-1.30,48.77 -0.88,45.27 -0.60,42.70C-0.32,40.13 -0.02,37.87 0.50,36.30C1.02,34.73 2.17,33.80 2.50,33.30"/><path d="M-52.22,-30.15C-50.88,-29.61 -46.76,-28.27 -44.17,-26.89C-41.58,-25.51 -38.76,-23.40 -36.68,-21.87C-34.60,-20.34 -32.79,-18.95 -31.69,-17.72C-30.59,-16.49 -30.35,-15.02 -30.09,-14.48"/><path d="M52.22,-30.15C51.08,-29.26 47.86,-26.36 45.37,-24.81C42.88,-23.26 39.64,-21.87 37.28,-20.83C34.91,-19.79 32.80,-18.92 31.19,-18.58C29.57,-18.25 28.19,-18.78 27.59,-18.82"/></g>
<path id="sT1" d="M20.50,0.00C20.50,2.31 9.12,3.97 4.00,6.93C-1.12,9.89 -8.25,18.91 -10.25,17.75C-12.25,16.60 -8.00,5.92 -8.00,0.00C-8.00,-5.92 -12.25,-16.60 -10.25,-17.75C-8.25,-18.91 -1.12,-9.89 4.00,-6.93C9.13,-3.97 20.50,-2.31 20.50,0.00Z"/>
<path id="sC1" d="M0.50,36.30 L2.50,33.30 L5.40,30.70 L9.90,27.30 L15.30,23.90 L21.70,22.00 L28.00,21.90 L26.20,21.80 L24.40,13.70 L20.80,6.50 L17.30,0.10 L17.97,0.13 L18.30,-1.10 L23.15,-9.10 L29.10,-16.80 L31.19,-18.58 L31.19,-18.58 L27.59,-18.82 L23.89,-20.03 L18.69,-22.22 L13.05,-25.20 L8.20,-29.79 L4.97,-35.20 L5.78,-33.59 L-0.34,-27.98 L-4.77,-21.26 L-8.56,-15.03 L-8.87,-15.63 L-10.10,-15.30 L-19.45,-15.50 L-29.10,-16.80 L-31.69,-17.72 L-31.69,-17.72 L-30.09,-14.48 L-29.29,-10.67 L-28.59,-5.08 L-28.35,1.30 L-29.90,7.79 L-32.97,13.30 L-31.98,11.79 L-24.06,14.28 L-16.03,14.76 L-8.74,14.93 L-9.10,15.50 L-8.20,16.40 L-3.70,24.60 L-0.00,33.60 L0.50,36.30Z"/>
</defs>
<g clip-path="url(#hc1)">
<rect x="113.30" y="224.30" width="136.70" height="136.20" fill="#005ede"/>
<g transform="translate(182.00,292.20) scale(1.0000,-1.0000)">
<g filter="url(#hbb1)" fill="#000f8f">
<ellipse cx="-152.2" cy="0.0" rx="9.5" ry="14.5" transform="rotate(0 -152.2 0.0)"/>
<ellipse cx="-132.8" cy="-49.1" rx="9.5" ry="14.5" transform="rotate(60 -132.8 -49.1)"/>
<ellipse cx="-132.8" cy="49.1" rx="9.5" ry="14.5" transform="rotate(120 -132.8 49.1)"/>
<ellipse cx="-99.9" cy="-90.4" rx="9.5" ry="14.5" transform="rotate(0 -99.9 -90.4)"/>
<ellipse cx="-99.9" cy="90.4" rx="9.5" ry="14.5" transform="rotate(0 -99.9 90.4)"/>
<ellipse cx="-80.5" cy="-139.6" rx="9.5" ry="14.5" transform="rotate(60 -80.5 -139.6)"/>
<ellipse cx="-80.5" cy="-41.3" rx="9.5" ry="14.5" transform="rotate(120 -80.5 -41.3)"/>
<ellipse cx="-80.5" cy="41.3" rx="9.5" ry="14.5" transform="rotate(60 -80.5 41.3)"/>
<ellipse cx="-80.5" cy="139.6" rx="9.5" ry="14.5" transform="rotate(120 -80.5 139.6)"/>
<ellipse cx="-47.7" cy="0.0" rx="9.5" ry="14.5" transform="rotate(0 -47.7 0.0)"/>
<ellipse cx="-28.4" cy="-131.8" rx="9.5" ry="14.5" transform="rotate(120 -28.4 -131.8)"/>
<ellipse cx="-28.4" cy="-49.1" rx="9.5" ry="14.5" transform="rotate(60 -28.4 -49.1)"/>
<ellipse cx="-28.4" cy="49.1" rx="9.5" ry="14.5" transform="rotate(120 -28.4 49.1)"/>
<ellipse cx="-28.4" cy="131.8" rx="9.5" ry="14.5" transform="rotate(60 -28.4 131.8)"/>
<ellipse cx="4.5" cy="-90.4" rx="9.5" ry="14.5" transform="rotate(0 4.5 -90.4)"/>
<ellipse cx="4.5" cy="90.4" rx="9.5" ry="14.5" transform="rotate(0 4.5 90.4)"/>
<ellipse cx="23.9" cy="-139.6" rx="9.5" ry="14.5" transform="rotate(60 23.9 -139.6)"/>
<ellipse cx="23.9" cy="-41.3" rx="9.5" ry="14.5" transform="rotate(120 23.9 -41.3)"/>
<ellipse cx="23.9" cy="41.3" rx="9.5" ry="14.5" transform="rotate(60 23.9 41.3)"/>
<ellipse cx="23.9" cy="139.6" rx="9.5" ry="14.5" transform="rotate(120 23.9 139.6)"/>
<ellipse cx="56.7" cy="0.0" rx="9.5" ry="14.5" transform="rotate(0 56.7 0.0)"/>
<ellipse cx="76.0" cy="-131.8" rx="9.5" ry="14.5" transform="rotate(120 76.0 -131.8)"/>
<ellipse cx="76.0" cy="-49.1" rx="9.5" ry="14.5" transform="rotate(60 76.0 -49.1)"/>
<ellipse cx="76.0" cy="49.1" rx="9.5" ry="14.5" transform="rotate(120 76.0 49.1)"/>
<ellipse cx="76.0" cy="131.8" rx="9.5" ry="14.5" transform="rotate(60 76.0 131.8)"/>
<ellipse cx="108.9" cy="-90.4" rx="9.5" ry="14.5" transform="rotate(0 108.9 -90.4)"/>
<ellipse cx="108.9" cy="90.4" rx="9.5" ry="14.5" transform="rotate(0 108.9 90.4)"/>
<ellipse cx="128.3" cy="-41.3" rx="9.5" ry="14.5" transform="rotate(120 128.3 -41.3)"/>
<ellipse cx="128.3" cy="41.3" rx="9.5" ry="14.5" transform="rotate(60 128.3 41.3)"/>
<ellipse cx="161.2" cy="0.0" rx="9.5" ry="14.5" transform="rotate(0 161.2 0.0)"/>
</g>
<g filter="url(#hbw1)" fill="none" stroke-linecap="round" stroke-linejoin="round">
<g stroke="#0066e6" stroke-width="20.00"><use href="#sA1" x="0.00" y="0.00"/><use href="#sA1" x="104.44" y="0.00"/><use href="#sA1" x="52.22" y="90.45"/><use href="#sA1" x="-52.22" y="90.45"/><use href="#sA1" x="-104.44" y="0.00"/><use href="#sA1" x="-52.22" y="-90.45"/><use href="#sA1" x="52.22" y="-90.45"/></g>
<g stroke="#0080ff" stroke-width="15.60"><use href="#sA1" x="0.00" y="0.00"/><use href="#sA1" x="104.44" y="0.00"/><use href="#sA1" x="52.22" y="90.45"/><use href="#sA1" x="-52.22" y="90.45"/><use href="#sA1" x="-104.44" y="0.00"/><use href="#sA1" x="-52.22" y="-90.45"/><use href="#sA1" x="52.22" y="-90.45"/></g>
<g stroke="#3d9eff" stroke-width="13.60"><use href="#sA1" x="0.00" y="0.00"/><use href="#sA1" x="104.44" y="0.00"/><use href="#sA1" x="52.22" y="90.45"/><use href="#sA1" x="-52.22" y="90.45"/><use href="#sA1" x="-104.44" y="0.00"/><use href="#sA1" x="-52.22" y="-90.45"/><use href="#sA1" x="52.22" y="-90.45"/></g>
</g>
<g filter="url(#hb1)" fill="none" stroke-linecap="round" stroke-linejoin="round">
<g stroke="#80bfff" stroke-width="11.60"><use href="#sA1" x="0.00" y="0.00"/><use href="#sA1" x="104.44" y="0.00"/><use href="#sA1" x="52.22" y="90.45"/><use href="#sA1" x="-52.22" y="90.45"/><use href="#sA1" x="-104.44" y="0.00"/><use href="#sA1" x="-52.22" y="-90.45"/><use href="#sA1" x="52.22" y="-90.45"/></g>
<g stroke="#80bfff" stroke-width="9.00"><use href="#sL1" x="0.00" y="0.00"/></g>
<g fill="#ffffff" stroke="#ffffff" stroke-width="3.00">
<use href="#sC1" x="0.00" y="0.00"/>
</g>
<g stroke="#ffffff" stroke-width="9.00"><use href="#sA1" x="0.00" y="0.00"/><use href="#sA1" x="104.44" y="0.00"/><use href="#sA1" x="52.22" y="90.45"/><use href="#sA1" x="-52.22" y="90.45"/><use href="#sA1" x="-104.44" y="0.00"/><use href="#sA1" x="-52.22" y="-90.45"/><use href="#sA1" x="52.22" y="-90.45"/></g>
<g stroke="#ffffff" stroke-width="6.00"><use href="#sL1" x="0.00" y="0.00"/></g>
<g stroke="#ffd6d6" stroke-width="4.80"><use href="#sA1" x="0.00" y="0.00"/><use href="#sA1" x="104.44" y="0.00"/><use href="#sA1" x="52.22" y="90.45"/><use href="#sA1" x="-52.22" y="90.45"/><use href="#sA1" x="-104.44" y="0.00"/><use href="#sA1" x="-52.22" y="-90.45"/><use href="#sA1" x="52.22" y="-90.45"/></g>
<g stroke="#ffadad" stroke-width="4.60"><use href="#sR1_0" x="0.00" y="0.00"/><use href="#sR1_0" x="104.44" y="0.00"/><use href="#sR1_0" x="52.22" y="90.45"/><use href="#sR1_0" x="-52.22" y="90.45"/><use href="#sR1_0" x="-104.44" y="0.00"/><use href="#sR1_0" x="-52.22" y="-90.45"/><use href="#sR1_0" x="52.22" y="-90.45"/></g>
<g stroke="#ff9999" stroke-width="2.20"><use href="#sA1" x="0.00" y="0.00"/><use href="#sA1" x="104.44" y="0.00"/><use href="#sA1" x="52.22" y="90.45"/><use href="#sA1" x="-52.22" y="90.45"/><use href="#sA1" x="-104.44" y="0.00"/><use href="#sA1" x="-52.22" y="-90.45"/><use href="#sA1" x="52.22" y="-90.45"/></g>
<g stroke="#ff5252" stroke-width="3.30"><use href="#sR1_1" x="0.00" y="0.00"/></g>
<g stroke="#f00000" stroke-width="2.00"><use href="#sR1_2" x="0.00" y="0.00"/></g>
<path d="M52.40,31.00C52.53,32.50 52.83,36.83 53.20,40.00C53.57,43.17 54.05,47.00 54.60,50.00C55.15,53.00 55.77,55.33 56.50,58.00C57.23,60.67 58.58,64.67 59.00,66.00" stroke="#ffb8b8" stroke-width="3.60"/>
<path d="M52.40,31.00C52.53,32.50 52.83,36.83 53.20,40.00C53.57,43.17 54.05,47.00 54.60,50.00C55.15,53.00 55.77,55.33 56.50,58.00C57.23,60.67 58.58,64.67 59.00,66.00" stroke="#ff7a7a" stroke-width="2.00"/>
<path d="M53.20,40.00C53.43,41.67 54.05,47.00 54.60,50.00C55.15,53.00 56.18,56.67 56.50,58.00" stroke="#ff3333" stroke-width="1.00"/>
<path d="M52.40,-31.00C52.57,-32.50 52.97,-36.83 53.40,-40.00C53.83,-43.17 54.32,-47.00 55.00,-50.00C55.68,-53.00 56.58,-55.33 57.50,-58.00C58.42,-60.67 60.00,-64.67 60.50,-66.00" stroke="#ffb8b8" stroke-width="3.60"/>
<path d="M52.40,-31.00C52.57,-32.50 52.97,-36.83 53.40,-40.00C53.83,-43.17 54.32,-47.00 55.00,-50.00C55.68,-53.00 56.58,-55.33 57.50,-58.00C58.42,-60.67 60.00,-64.67 60.50,-66.00" stroke="#ff7a7a" stroke-width="2.00"/>
<path d="M53.40,-40.00C53.67,-41.67 54.32,-47.00 55.00,-50.00C55.68,-53.00 57.08,-56.67 57.50,-58.00" stroke="#ff3333" stroke-width="1.00"/>
<path d="M-51.50,56.00C-51.17,56.67 -50.33,58.58 -49.50,60.00C-48.67,61.42 -47.58,63.17 -46.50,64.50C-45.42,65.83 -43.58,67.42 -43.00,68.00" stroke="#ffb8b8" stroke-width="3.60"/>
<path d="M-51.50,56.00C-51.17,56.67 -50.33,58.58 -49.50,60.00C-48.67,61.42 -47.58,63.17 -46.50,64.50C-45.42,65.83 -43.58,67.42 -43.00,68.00" stroke="#ff7a7a" stroke-width="2.00"/>
<path d="M-49.50,60.00C-49.00,60.75 -47.00,63.75 -46.50,64.50" stroke="#ff3333" stroke-width="1.00"/>
<path d="M-52.20,-31.00C-52.10,-32.83 -51.88,-38.50 -51.60,-42.00C-51.32,-45.50 -51.02,-49.00 -50.50,-52.00C-49.98,-55.00 -49.25,-57.67 -48.50,-60.00C-47.75,-62.33 -46.42,-65.00 -46.00,-66.00" stroke="#ffb8b8" stroke-width="3.60"/>
<path d="M-52.20,-31.00C-52.10,-32.83 -51.88,-38.50 -51.60,-42.00C-51.32,-45.50 -51.02,-49.00 -50.50,-52.00C-49.98,-55.00 -49.25,-57.67 -48.50,-60.00C-47.75,-62.33 -46.42,-65.00 -46.00,-66.00" stroke="#ff7a7a" stroke-width="2.00"/>
<path d="M-51.60,-42.00C-51.42,-43.67 -51.02,-49.00 -50.50,-52.00C-49.98,-55.00 -48.83,-58.67 -48.50,-60.00" stroke="#ff3333" stroke-width="1.00"/>
</g>
<g filter="url(#hbt1)" stroke-linejoin="round">
<g fill="#ffdbdb" stroke="#ffdbdb" stroke-width="6.50">
<use href="#sT1" x="0.00" y="0.00"/>
<use href="#sT1" x="104.44" y="0.00"/>
<use href="#sT1" x="52.22" y="90.45"/>
<use href="#sT1" x="-52.22" y="90.45"/>
<use href="#sT1" x="-104.44" y="0.00"/>
<use href="#sT1" x="-52.22" y="-90.45"/>
<use href="#sT1" x="52.22" y="-90.45"/>
</g>
<g fill="#ff9e9e" stroke="#ff9e9e" stroke-width="2.60">
<use href="#sT1" x="0.00" y="0.00"/>
<use href="#sT1" x="104.44" y="0.00"/>
<use href="#sT1" x="52.22" y="90.45"/>
<use href="#sT1" x="-52.22" y="90.45"/>
<use href="#sT1" x="-104.44" y="0.00"/>
<use href="#sT1" x="-52.22" y="-90.45"/>
<use href="#sT1" x="52.22" y="-90.45"/>
</g>
</g>
<g filter="url(#hbs1)">
<ellipse cx="10.08" cy="18.19" rx="5.25" ry="10.25" fill="#9ecfff" transform="rotate(53 10.08 18.19)"/>
<ellipse cx="-20.80" cy="-0.36" rx="5.25" ry="10.25" fill="#9ecfff" transform="rotate(-187 -20.80 -0.36)"/>
<ellipse cx="10.71" cy="-17.83" rx="5.25" ry="10.25" fill="#9ecfff" transform="rotate(-67 10.71 -17.83)"/>
<ellipse cx="114.53" cy="18.19" rx="5.25" ry="10.25" fill="#9ecfff" transform="rotate(53 114.53 18.19)"/>
<ellipse cx="83.65" cy="-0.36" rx="5.25" ry="10.25" fill="#9ecfff" transform="rotate(-187 83.65 -0.36)"/>
<ellipse cx="115.16" cy="-17.83" rx="5.25" ry="10.25" fill="#9ecfff" transform="rotate(-67 115.16 -17.83)"/>
<ellipse cx="62.31" cy="108.64" rx="5.25" ry="10.25" fill="#9ecfff" transform="rotate(53 62.31 108.64)"/>
<ellipse cx="31.42" cy="90.09" rx="5.25" ry="10.25" fill="#9ecfff" transform="rotate(-187 31.42 90.09)"/>
<ellipse cx="62.93" cy="72.62" rx="5.25" ry="10.25" fill="#9ecfff" transform="rotate(-67 62.93 72.62)"/>
<ellipse cx="-42.14" cy="108.64" rx="5.25" ry="10.25" fill="#9ecfff" transform="rotate(53 -42.14 108.64)"/>
<ellipse cx="-73.02" cy="90.09" rx="5.25" ry="10.25" fill="#9ecfff" transform="rotate(-187 -73.02 90.09)"/>
<ellipse cx="-41.51" cy="72.62" rx="5.25" ry="10.25" fill="#9ecfff" transform="rotate(-67 -41.51 72.62)"/>
<ellipse cx="-94.36" cy="18.19" rx="5.25" ry="10.25" fill="#9ecfff" transform="rotate(53 -94.36 18.19)"/>
<ellipse cx="-125.24" cy="-0.36" rx="5.25" ry="10.25" fill="#9ecfff" transform="rotate(-187 -125.24 -0.36)"/>
<ellipse cx="-93.73" cy="-17.83" rx="5.25" ry="10.25" fill="#9ecfff" transform="rotate(-67 -93.73 -17.83)"/>
<ellipse cx="-42.14" cy="-72.26" rx="5.25" ry="10.25" fill="#9ecfff" transform="rotate(53 -42.14 -72.26)"/>
<ellipse cx="-73.02" cy="-90.81" rx="5.25" ry="10.25" fill="#9ecfff" transform="rotate(-187 -73.02 -90.81)"/>
<ellipse cx="-41.51" cy="-108.28" rx="5.25" ry="10.25" fill="#9ecfff" transform="rotate(-67 -41.51 -108.28)"/>
<ellipse cx="62.31" cy="-72.26" rx="5.25" ry="10.25" fill="#9ecfff" transform="rotate(53 62.31 -72.26)"/>
<ellipse cx="31.42" cy="-90.81" rx="5.25" ry="10.25" fill="#9ecfff" transform="rotate(-187 31.42 -90.81)"/>
<ellipse cx="62.93" cy="-108.28" rx="5.25" ry="10.25" fill="#9ecfff" transform="rotate(-67 62.93 -108.28)"/>
<ellipse cx="10.08" cy="18.19" rx="4.20" ry="8.20" fill="#64b1ff" transform="rotate(53 10.08 18.19)"/>
<ellipse cx="-20.80" cy="-0.36" rx="4.20" ry="8.20" fill="#64b1ff" transform="rotate(-187 -20.80 -0.36)"/>
<ellipse cx="10.71" cy="-17.83" rx="4.20" ry="8.20" fill="#64b1ff" transform="rotate(-67 10.71 -17.83)"/>
<ellipse cx="114.53" cy="18.19" rx="4.20" ry="8.20" fill="#64b1ff" transform="rotate(53 114.53 18.19)"/>
<ellipse cx="83.65" cy="-0.36" rx="4.20" ry="8.20" fill="#64b1ff" transform="rotate(-187 83.65 -0.36)"/>
<ellipse cx="115.16" cy="-17.83" rx="4.20" ry="8.20" fill="#64b1ff" transform="rotate(-67 115.16 -17.83)"/>
<ellipse cx="62.31" cy="108.64" rx="4.20" ry="8.20" fill="#64b1ff" transform="rotate(53 62.31 108.64)"/>
<ellipse cx="31.42" cy="90.09" rx="4.20" ry="8.20" fill="#64b1ff" transform="rotate(-187 31.42 90.09)"/>
<ellipse cx="62.93" cy="72.62" rx="4.20" ry="8.20" fill="#64b1ff" transform="rotate(-67 62.93 72.62)"/>
<ellipse cx="-42.14" cy="108.64" rx="4.20" ry="8.20" fill="#64b1ff" transform="rotate(53 -42.14 108.64)"/>
<ellipse cx="-73.02" cy="90.09" rx="4.20" ry="8.20" fill="#64b1ff" transform="rotate(-187 -73.02 90.09)"/>
<ellipse cx="-41.51" cy="72.62" rx="4.20" ry="8.20" fill="#64b1ff" transform="rotate(-67 -41.51 72.62)"/>
<ellipse cx="-94.36" cy="18.19" rx="4.20" ry="8.20" fill="#64b1ff" transform="rotate(53 -94.36 18.19)"/>
<ellipse cx="-125.24" cy="-0.36" rx="4.20" ry="8.20" fill="#64b1ff" transform="rotate(-187 -125.24 -0.36)"/>
<ellipse cx="-93.73" cy="-17.83" rx="4.20" ry="8.20" fill="#64b1ff" transform="rotate(-67 -93.73 -17.83)"/>
<ellipse cx="-42.14" cy="-72.26" rx="4.20" ry="8.20" fill="#64b1ff" transform="rotate(53 -42.14 -72.26)"/>
<ellipse cx="-73.02" cy="-90.81" rx="4.20" ry="8.20" fill="#64b1ff" transform="rotate(-187 -73.02 -90.81)"/>
<ellipse cx="-41.51" cy="-108.28" rx="4.20" ry="8.20" fill="#64b1ff" transform="rotate(-67 -41.51 -108.28)"/>
<ellipse cx="62.31" cy="-72.26" rx="4.20" ry="8.20" fill="#64b1ff" transform="rotate(53 62.31 -72.26)"/>
<ellipse cx="31.42" cy="-90.81" rx="4.20" ry="8.20" fill="#64b1ff" transform="rotate(-187 31.42 -90.81)"/>
<ellipse cx="62.93" cy="-108.28" rx="4.20" ry="8.20" fill="#64b1ff" transform="rotate(-67 62.93 -108.28)"/>
<ellipse cx="10.08" cy="18.19" rx="3.02" ry="5.90" fill="#3d9eff" transform="rotate(53 10.08 18.19)"/>
<ellipse cx="-20.80" cy="-0.36" rx="3.02" ry="5.90" fill="#3d9eff" transform="rotate(-187 -20.80 -0.36)"/>
<ellipse cx="10.71" cy="-17.83" rx="3.02" ry="5.90" fill="#3d9eff" transform="rotate(-67 10.71 -17.83)"/>
<ellipse cx="114.53" cy="18.19" rx="3.02" ry="5.90" fill="#3d9eff" transform="rotate(53 114.53 18.19)"/>
<ellipse cx="83.65" cy="-0.36" rx="3.02" ry="5.90" fill="#3d9eff" transform="rotate(-187 83.65 -0.36)"/>
<ellipse cx="115.16" cy="-17.83" rx="3.02" ry="5.90" fill="#3d9eff" transform="rotate(-67 115.16 -17.83)"/>
<ellipse cx="62.31" cy="108.64" rx="3.02" ry="5.90" fill="#3d9eff" transform="rotate(53 62.31 108.64)"/>
<ellipse cx="31.42" cy="90.09" rx="3.02" ry="5.90" fill="#3d9eff" transform="rotate(-187 31.42 90.09)"/>
<ellipse cx="62.93" cy="72.62" rx="3.02" ry="5.90" fill="#3d9eff" transform="rotate(-67 62.93 72.62)"/>
<ellipse cx="-42.14" cy="108.64" rx="3.02" ry="5.90" fill="#3d9eff" transform="rotate(53 -42.14 108.64)"/>
<ellipse cx="-73.02" cy="90.09" rx="3.02" ry="5.90" fill="#3d9eff" transform="rotate(-187 -73.02 90.09)"/>
<ellipse cx="-41.51" cy="72.62" rx="3.02" ry="5.90" fill="#3d9eff" transform="rotate(-67 -41.51 72.62)"/>
<ellipse cx="-94.36" cy="18.19" rx="3.02" ry="5.90" fill="#3d9eff" transform="rotate(53 -94.36 18.19)"/>
<ellipse cx="-125.24" cy="-0.36" rx="3.02" ry="5.90" fill="#3d9eff" transform="rotate(-187 -125.24 -0.36)"/>
<ellipse cx="-93.73" cy="-17.83" rx="3.02" ry="5.90" fill="#3d9eff" transform="rotate(-67 -93.73 -17.83)"/>
<ellipse cx="-42.14" cy="-72.26" rx="3.02" ry="5.90" fill="#3d9eff" transform="rotate(53 -42.14 -72.26)"/>
<ellipse cx="-73.02" cy="-90.81" rx="3.02" ry="5.90" fill="#3d9eff" transform="rotate(-187 -73.02 -90.81)"/>
<ellipse cx="-41.51" cy="-108.28" rx="3.02" ry="5.90" fill="#3d9eff" transform="rotate(-67 -41.51 -108.28)"/>
<ellipse cx="62.31" cy="-72.26" rx="3.02" ry="5.90" fill="#3d9eff" transform="rotate(53 62.31 -72.26)"/>
<ellipse cx="31.42" cy="-90.81" rx="3.02" ry="5.90" fill="#3d9eff" transform="rotate(-187 31.42 -90.81)"/>
<ellipse cx="62.93" cy="-108.28" rx="3.02" ry="5.90" fill="#3d9eff" transform="rotate(-67 62.93 -108.28)"/>
</g>
<g filter="url(#hbd1)">
<circle cx="-8.75" cy="15.16" r="4.14" fill="#ff9a9a"/>
<circle cx="-8.75" cy="15.16" r="2.88" fill="#ff4646"/>
<circle cx="-8.75" cy="-15.16" r="4.14" fill="#ff9a9a"/>
<circle cx="-8.75" cy="-15.16" r="2.88" fill="#ff4646"/>
<circle cx="17.50" cy="-0.00" r="4.14" fill="#ff9a9a"/>
<circle cx="17.50" cy="-0.00" r="2.88" fill="#ff4646"/>
<circle cx="95.69" cy="15.16" r="4.14" fill="#ff9a9a"/>
<circle cx="95.69" cy="15.16" r="2.88" fill="#ff4646"/>
<circle cx="95.69" cy="-15.16" r="4.14" fill="#ff9a9a"/>
<circle cx="95.69" cy="-15.16" r="2.88" fill="#ff4646"/>
<circle cx="121.94" cy="-0.00" r="4.14" fill="#ff9a9a"/>
<circle cx="121.94" cy="-0.00" r="2.88" fill="#ff4646"/>
<circle cx="43.47" cy="105.61" r="4.14" fill="#ff9a9a"/>
<circle cx="43.47" cy="105.61" r="2.88" fill="#ff4646"/>
<circle cx="43.47" cy="75.29" r="4.14" fill="#ff9a9a"/>
<circle cx="43.47" cy="75.29" r="2.88" fill="#ff4646"/>
<circle cx="69.72" cy="90.45" r="4.14" fill="#ff9a9a"/>
<circle cx="69.72" cy="90.45" r="2.88" fill="#ff4646"/>
<circle cx="-60.97" cy="105.61" r="4.14" fill="#ff9a9a"/>
<circle cx="-60.97" cy="105.61" r="2.88" fill="#ff4646"/>
<circle cx="-60.97" cy="75.29" r="4.14" fill="#ff9a9a"/>
<circle cx="-60.97" cy="75.29" r="2.88" fill="#ff4646"/>
<circle cx="-34.72" cy="90.45" r="4.14" fill="#ff9a9a"/>
<circle cx="-34.72" cy="90.45" r="2.88" fill="#ff4646"/>
<circle cx="-113.19" cy="15.16" r="4.14" fill="#ff9a9a"/>
<circle cx="-113.19" cy="15.16" r="2.88" fill="#ff4646"/>
<circle cx="-113.19" cy="-15.16" r="4.14" fill="#ff9a9a"/>
<circle cx="-113.19" cy="-15.16" r="2.88" fill="#ff4646"/>
<circle cx="-86.94" cy="0.00" r="4.14" fill="#ff9a9a"/>
<circle cx="-86.94" cy="0.00" r="2.88" fill="#ff4646"/>
<circle cx="-60.97" cy="-75.29" r="4.14" fill="#ff9a9a"/>
<circle cx="-60.97" cy="-75.29" r="2.88" fill="#ff4646"/>
<circle cx="-60.97" cy="-105.61" r="4.14" fill="#ff9a9a"/>
<circle cx="-60.97" cy="-105.61" r="2.88" fill="#ff4646"/>
<circle cx="-34.72" cy="-90.45" r="4.14" fill="#ff9a9a"/>
<circle cx="-34.72" cy="-90.45" r="2.88" fill="#ff4646"/>
<circle cx="43.47" cy="-75.29" r="4.14" fill="#ff9a9a"/>
<circle cx="43.47" cy="-75.29" r="2.88" fill="#ff4646"/>
<circle cx="43.47" cy="-105.61" r="4.14" fill="#ff9a9a"/>
<circle cx="43.47" cy="-105.61" r="2.88" fill="#ff4646"/>
<circle cx="69.72" cy="-90.45" r="4.14" fill="#ff9a9a"/>
<circle cx="69.72" cy="-90.45" r="2.88" fill="#ff4646"/>
<circle cx="-8.75" cy="15.16" r="1.80" fill="#d60000"/>
<circle cx="-8.75" cy="-15.16" r="1.80" fill="#d60000"/>
<circle cx="17.50" cy="-0.00" r="1.80" fill="#d60000"/>
<circle cx="52.22" cy="30.15" r="1.70" fill="#f00000"/>
<circle cx="0.00" cy="60.30" r="1.70" fill="#f00000"/>
<circle cx="-52.22" cy="30.15" r="1.70" fill="#f00000"/>
<circle cx="-52.22" cy="-30.15" r="1.70" fill="#f00000"/>
<circle cx="-0.00" cy="-60.30" r="1.70" fill="#f00000"/>
<circle cx="52.22" cy="-30.15" r="1.70" fill="#f00000"/>
<circle cx="95.69" cy="15.16" r="1.80" fill="#d60000"/>
<circle cx="95.69" cy="-15.16" r="1.80" fill="#d60000"/>
<circle cx="121.94" cy="-0.00" r="1.80" fill="#d60000"/>
<circle cx="156.66" cy="30.15" r="1.70" fill="#f00000"/>
<circle cx="104.44" cy="60.30" r="1.70" fill="#f00000"/>
<circle cx="52.22" cy="30.15" r="1.70" fill="#f00000"/>
<circle cx="52.22" cy="-30.15" r="1.70" fill="#f00000"/>
<circle cx="104.44" cy="-60.30" r="1.70" fill="#f00000"/>
<circle cx="156.66" cy="-30.15" r="1.70" fill="#f00000"/>
<circle cx="43.47" cy="105.61" r="1.80" fill="#d60000"/>
<circle cx="43.47" cy="75.29" r="1.80" fill="#d60000"/>
<circle cx="69.72" cy="90.45" r="1.80" fill="#d60000"/>
<circle cx="104.44" cy="120.60" r="1.70" fill="#f00000"/>
<circle cx="52.22" cy="150.75" r="1.70" fill="#f00000"/>
<circle cx="0.00" cy="120.60" r="1.70" fill="#f00000"/>
<circle cx="0.00" cy="60.30" r="1.70" fill="#f00000"/>
<circle cx="52.22" cy="30.15" r="1.70" fill="#f00000"/>
<circle cx="104.44" cy="60.30" r="1.70" fill="#f00000"/>
<circle cx="-60.97" cy="105.61" r="1.80" fill="#d60000"/>
<circle cx="-60.97" cy="75.29" r="1.80" fill="#d60000"/>
<circle cx="-34.72" cy="90.45" r="1.80" fill="#d60000"/>
<circle cx="0.00" cy="120.60" r="1.70" fill="#f00000"/>
<circle cx="-52.22" cy="150.75" r="1.70" fill="#f00000"/>
<circle cx="-104.44" cy="120.60" r="1.70" fill="#f00000"/>
<circle cx="-104.44" cy="60.30" r="1.70" fill="#f00000"/>
<circle cx="-52.22" cy="30.15" r="1.70" fill="#f00000"/>
<circle cx="0.00" cy="60.30" r="1.70" fill="#f00000"/>
<circle cx="-113.19" cy="15.16" r="1.80" fill="#d60000"/>
<circle cx="-113.19" cy="-15.16" r="1.80" fill="#d60000"/>
<circle cx="-86.94" cy="0.00" r="1.80" fill="#d60000"/>
<circle cx="-52.22" cy="30.15" r="1.70" fill="#f00000"/>
<circle cx="-104.44" cy="60.30" r="1.70" fill="#f00000"/>
<circle cx="-156.66" cy="30.15" r="1.70" fill="#f00000"/>
<circle cx="-156.66" cy="-30.15" r="1.70" fill="#f00000"/>
<circle cx="-104.44" cy="-60.30" r="1.70" fill="#f00000"/>
<circle cx="-52.22" cy="-30.15" r="1.70" fill="#f00000"/>
<circle cx="-60.97" cy="-75.29" r="1.80" fill="#d60000"/>
<circle cx="-60.97" cy="-105.61" r="1.80" fill="#d60000"/>
<circle cx="-34.72" cy="-90.45" r="1.80" fill="#d60000"/>
<circle cx="-0.00" cy="-60.30" r="1.70" fill="#f00000"/>
<circle cx="-52.22" cy="-30.15" r="1.70" fill="#f00000"/>
<circle cx="-104.44" cy="-60.30" r="1.70" fill="#f00000"/>
<circle cx="-104.44" cy="-120.60" r="1.70" fill="#f00000"/>
<circle cx="-52.22" cy="-150.75" r="1.70" fill="#f00000"/>
<circle cx="-0.00" cy="-120.60" r="1.70" fill="#f00000"/>
<circle cx="43.47" cy="-75.29" r="1.80" fill="#d60000"/>
<circle cx="43.47" cy="-105.61" r="1.80" fill="#d60000"/>
<circle cx="69.72" cy="-90.45" r="1.80" fill="#d60000"/>
<circle cx="104.44" cy="-60.30" r="1.70" fill="#f00000"/>
<circle cx="52.22" cy="-30.15" r="1.70" fill="#f00000"/>
<circle cx="0.00" cy="-60.30" r="1.70" fill="#f00000"/>
<circle cx="0.00" cy="-120.60" r="1.70" fill="#f00000"/>
<circle cx="52.22" cy="-150.75" r="1.70" fill="#f00000"/>
<circle cx="104.44" cy="-120.60" r="1.70" fill="#f00000"/>
</g>
</g>
</g>
<polygon points="182.00,231.90 129.78,262.05 129.78,322.35 182.00,352.50 234.22,322.35 234.22,262.05" fill="none" stroke="#ececf6" stroke-width="0.75" stroke-dasharray="7.600,7.475" stroke-dashoffset="3.800"/>
<defs><linearGradient id="cb1" x1="0" y1="0" x2="0" y2="1"><stop offset="0.0000" stop-color="#800000"/><stop offset="0.3399" stop-color="#ff0000"/><stop offset="0.6798" stop-color="#ffffff"/><stop offset="0.8399" stop-color="#0080ff"/><stop offset="1.0000" stop-color="#000080"/></linearGradient></defs>
<rect x="246.80" y="229.20" width="5.40" height="126.30" fill="url(#cb1)"/>
<g stroke="#333" stroke-width="0.5">
<line x1="251.00" y1="231.97" x2="252.20" y2="231.97"/>
<line x1="251.00" y1="259.67" x2="252.20" y2="259.67"/>
<line x1="251.00" y1="287.36" x2="252.20" y2="287.36"/>
<line x1="251.00" y1="315.06" x2="252.20" y2="315.06"/>
<line x1="251.00" y1="342.76" x2="252.20" y2="342.76"/>
</g>
<g font-family="Liberation Sans, sans-serif" font-size="9.0" fill="#1c1c1c" stroke="#1c1c1c" stroke-width="0.15">
<text x="254.40" y="235.12">6</text>
<text x="254.40" y="262.82">4</text>
<text x="254.40" y="290.51">2</text>
<text x="254.40" y="318.21">0</text>
<text x="253.40" y="345.91">-2</text>
</g>
<text x="246.40" y="224.60" font-family="Liberation Serif, serif" font-size="11.3" fill="#111" text-anchor="middle">log(Tr[<tspan font-style="italic">G</tspan>])</text>
<text x="182.8" y="297.6" font-family="Liberation Serif, serif" font-size="14" fill="#222" text-anchor="middle">Γ</text>
<text x="221.60" y="269.20" font-family="Liberation Serif, serif" font-size="11.0" fill="#151515"><tspan font-style="italic">K</tspan><tspan font-size="7.2" dy="2">2</tspan></text>
<text x="223.00" y="319.60" font-family="Liberation Serif, serif" font-size="11.0" fill="#151515"><tspan font-style="italic">K</tspan><tspan font-size="7.2" dy="2">1</tspan></text>
<defs>
<clipPath id="hc2"><rect x="327.30" y="228.10" width="127.80" height="125.70"/></clipPath>
<filter id="hb2" x="-60%" y="-60%" width="220%" height="220%" color-interpolation-filters="sRGB"><feGaussianBlur stdDeviation="1.15"/></filter>
<filter id="hbb2" x="-60%" y="-60%" width="220%" height="220%" color-interpolation-filters="sRGB"><feGaussianBlur stdDeviation="5.50"/></filter>
<filter id="hbw2" x="-60%" y="-60%" width="220%" height="220%" color-interpolation-filters="sRGB"><feGaussianBlur stdDeviation="1.70"/></filter>
<filter id="hbd2" x="-60%" y="-60%" width="220%" height="220%" color-interpolation-filters="sRGB"><feGaussianBlur stdDeviation="0.90"/></filter>
<filter id="hbs2" x="-60%" y="-60%" width="220%" height="220%" color-interpolation-filters="sRGB"><feGaussianBlur stdDeviation="1.50"/></filter>
<filter id="hbt2" x="-60%" y="-60%" width="220%" height="220%" color-interpolation-filters="sRGB"><feGaussianBlur stdDeviation="1.70"/></filter>
<g id="sA2"><path d="M0.00,60.30C-0.17,58.87 -0.95,54.42 -1.00,51.70C-1.05,48.98 -0.62,46.12 -0.30,44.00C0.02,41.88 0.40,40.67 0.90,39.00C1.40,37.33 1.95,35.63 2.70,34.00C3.45,32.37 4.35,30.55 5.40,29.20C6.45,27.85 7.80,26.85 9.00,25.90C10.20,24.95 11.25,24.18 12.60,23.50C13.95,22.82 15.57,22.25 17.10,21.80C18.63,21.35 20.18,20.97 21.80,20.80C23.42,20.63 25.17,20.63 26.80,20.80C28.43,20.97 29.80,21.27 31.60,21.80C33.40,22.33 35.53,23.15 37.60,24.00C39.67,24.85 42.13,26.08 44.00,26.90C45.87,27.72 47.43,28.36 48.80,28.90C50.17,29.44 51.63,29.94 52.20,30.15"/><path d="M-52.22,-30.15C-50.90,-29.58 -46.65,-28.03 -44.27,-26.72C-41.90,-25.40 -39.63,-23.59 -37.96,-22.26C-36.28,-20.93 -35.42,-19.99 -34.22,-18.72C-33.03,-17.45 -31.83,-16.13 -30.79,-14.66C-29.76,-13.20 -28.63,-11.51 -27.99,-9.92C-27.34,-8.34 -27.15,-6.67 -26.93,-5.16C-26.71,-3.64 -26.57,-2.35 -26.65,-0.84C-26.73,0.67 -27.05,2.36 -27.43,3.91C-27.81,5.46 -28.25,7.00 -28.91,8.48C-29.58,9.96 -30.45,11.48 -31.41,12.81C-32.37,14.14 -33.32,15.17 -34.68,16.47C-36.04,17.76 -37.82,19.20 -39.58,20.56C-41.35,21.93 -43.66,23.45 -45.30,24.66C-46.94,25.86 -48.28,26.90 -49.43,27.81C-50.58,28.72 -51.75,29.74 -52.21,30.13"/><path d="M52.22,-30.15C51.06,-29.29 47.60,-26.39 45.27,-24.98C42.95,-23.58 40.25,-22.52 38.26,-21.74C36.26,-20.96 35.02,-20.68 33.32,-20.28C31.63,-19.88 29.88,-19.51 28.09,-19.34C26.31,-19.17 24.28,-19.04 22.59,-19.28C20.89,-19.51 19.35,-20.18 17.93,-20.74C16.51,-21.31 15.32,-21.83 14.05,-22.66C12.78,-23.49 11.49,-24.61 10.33,-25.71C9.17,-26.81 8.07,-27.96 7.11,-29.28C6.16,-30.60 5.29,-32.11 4.61,-33.61C3.94,-35.11 3.52,-36.44 3.08,-38.27C2.64,-40.09 2.28,-42.35 1.98,-44.56C1.69,-46.78 1.52,-49.53 1.30,-51.56C1.07,-53.58 0.84,-55.26 0.63,-56.71C0.41,-58.17 0.11,-59.69 0.01,-60.28"/></g>
<g id="sR2_0"><path d="M6.60,27.90 L6.78,27.75 L7.00,27.55 L7.27,27.31 L7.57,27.05 L7.91,26.77 L8.26,26.47 L8.63,26.18 L9.00,25.90 L9.39,25.61 L9.79,25.31 L10.22,25.00 L10.67,24.68 L11.13,24.37 L11.61,24.06 L12.10,23.77 L12.60,23.50 L13.12,23.25 L13.66,23.01 L14.21,22.78 L14.78,22.56 L15.36,22.36 L15.94,22.16 L16.52,21.97 L17.10,21.80 L17.69,21.64 L18.31,21.48 L18.94,21.33 L19.56,21.20 L20.18,21.08 L20.76,20.97 L21.31,20.88 L21.80,20.80 L22.25,20.74 L22.68,20.71 L23.08,20.69 L23.44,20.69 L23.77,20.69 L24.06,20.70 L24.31,20.70 L24.50,20.70"/><path d="M-27.46,-8.23 L-27.42,-8.01 L-27.36,-7.71 L-27.29,-7.36 L-27.21,-6.96 L-27.13,-6.54 L-27.06,-6.08 L-26.99,-5.62 L-26.93,-5.16 L-26.88,-4.68 L-26.82,-4.17 L-26.76,-3.65 L-26.71,-3.10 L-26.67,-2.54 L-26.64,-1.98 L-26.63,-1.41 L-26.65,-0.84 L-26.69,-0.26 L-26.76,0.32 L-26.83,0.92 L-26.93,1.52 L-27.04,2.12 L-27.16,2.72 L-27.29,3.32 L-27.43,3.91 L-27.58,4.50 L-27.76,5.12 L-27.94,5.73 L-28.14,6.34 L-28.34,6.93 L-28.54,7.49 L-28.73,8.01 L-28.91,8.48 L-29.09,8.90 L-29.27,9.29 L-29.46,9.64 L-29.64,9.96 L-29.81,10.24 L-29.95,10.49 L-30.08,10.70 L-30.18,10.87"/><path d="M20.86,-19.67 L20.64,-19.74 L20.36,-19.84 L20.02,-19.95 L19.64,-20.09 L19.23,-20.23 L18.80,-20.39 L18.36,-20.56 L17.93,-20.74 L17.49,-20.94 L17.02,-21.14 L16.54,-21.35 L16.04,-21.58 L15.54,-21.82 L15.03,-22.08 L14.54,-22.36 L14.05,-22.66 L13.58,-22.99 L13.10,-23.33 L12.62,-23.70 L12.15,-24.08 L11.68,-24.48 L11.22,-24.88 L10.77,-25.30 L10.33,-25.71 L9.89,-26.14 L9.45,-26.59 L9.01,-27.07 L8.58,-27.54 L8.17,-28.01 L7.78,-28.46 L7.43,-28.89 L7.11,-29.28 L6.84,-29.64 L6.60,-30.00 L6.38,-30.33 L6.19,-30.65 L6.03,-30.93 L5.89,-31.19 L5.78,-31.40 L5.68,-31.57"/></g>
<g id="sR2_1"><path d="M7.91,26.77 L8.26,26.47 L8.63,26.18 L9.00,25.90 L9.39,25.61 L9.79,25.31 L10.22,25.00 L10.67,24.68 L11.13,24.37 L11.61,24.06 L12.10,23.77 L12.60,23.50 L13.12,23.25 L13.66,23.01 L14.21,22.78 L14.78,22.56 L15.36,22.36 L15.94,22.16 L16.52,21.97 L17.10,21.80 L17.69,21.64 L18.31,21.48 L18.94,21.33 L19.56,21.20 L20.18,21.08 L20.76,20.97 L21.31,20.88 L21.80,20.80 L22.25,20.74 L22.68,20.71 L23.08,20.69"/><path d="M-27.13,-6.54 L-27.06,-6.08 L-26.99,-5.62 L-26.93,-5.16 L-26.88,-4.68 L-26.82,-4.17 L-26.76,-3.65 L-26.71,-3.10 L-26.67,-2.54 L-26.64,-1.98 L-26.63,-1.41 L-26.65,-0.84 L-26.69,-0.26 L-26.76,0.32 L-26.83,0.92 L-26.93,1.52 L-27.04,2.12 L-27.16,2.72 L-27.29,3.32 L-27.43,3.91 L-27.58,4.50 L-27.76,5.12 L-27.94,5.73 L-28.14,6.34 L-28.34,6.93 L-28.54,7.49 L-28.73,8.01 L-28.91,8.48 L-29.09,8.90 L-29.27,9.29 L-29.46,9.64"/><path d="M19.23,-20.23 L18.80,-20.39 L18.36,-20.56 L17.93,-20.74 L17.49,-20.94 L17.02,-21.14 L16.54,-21.35 L16.04,-21.58 L15.54,-21.82 L15.03,-22.08 L14.54,-22.36 L14.05,-22.66 L13.58,-22.99 L13.10,-23.33 L12.62,-23.70 L12.15,-24.08 L11.68,-24.48 L11.22,-24.88 L10.77,-25.30 L10.33,-25.71 L9.89,-26.14 L9.45,-26.59 L9.01,-27.07 L8.58,-27.54 L8.17,-28.01 L7.78,-28.46 L7.43,-28.89 L7.11,-29.28 L6.84,-29.64 L6.60,-30.00 L6.38,-30.33"/></g>
<g id="sR2_2"><path d="M9.79,25.31 L10.22,25.00 L10.67,24.68 L11.13,24.37 L11.61,24.06 L12.10,23.77 L12.60,23.50 L13.12,23.25 L13.66,23.01 L14.21,22.78 L14.78,22.56 L15.36,22.36 L15.94,22.16 L16.52,21.97 L17.10,21.80 L17.69,21.64 L18.31,21.48 L18.94,21.33 L19.56,21.20 L20.18,21.08 L20.76,20.97"/><path d="M-26.82,-4.17 L-26.76,-3.65 L-26.71,-3.10 L-26.67,-2.54 L-26.64,-1.98 L-26.63,-1.41 L-26.65,-0.84 L-26.69,-0.26 L-26.76,0.32 L-26.83,0.92 L-26.93,1.52 L-27.04,2.12 L-27.16,2.72 L-27.29,3.32 L-27.43,3.91 L-27.58,4.50 L-27.76,5.12 L-27.94,5.73 L-28.14,6.34 L-28.34,6.93 L-28.54,7.49"/><path d="M17.02,-21.14 L16.54,-21.35 L16.04,-21.58 L15.54,-21.82 L15.03,-22.08 L14.54,-22.36 L14.05,-22.66 L13.58,-22.99 L13.10,-23.33 L12.62,-23.70 L12.15,-24.08 L11.68,-24.48 L11.22,-24.88 L10.77,-25.30 L10.33,-25.71 L9.89,-26.14 L9.45,-26.59 L9.01,-27.07 L8.58,-27.54 L8.17,-28.01 L7.78,-28.46"/></g>
<g id="sL2"><path d="M0.50,36.30C0.42,35.85 0.70,35.55 0.00,33.60C-0.70,31.65 -2.33,27.47 -3.70,24.60C-5.07,21.73 -7.30,17.92 -8.20,16.40C-9.10,14.88 -8.95,15.65 -9.10,15.50"/><path d="M26.20,21.80C25.90,20.45 25.30,16.25 24.40,13.70C23.50,11.15 21.98,8.77 20.80,6.50C19.62,4.23 17.88,1.17 17.30,0.10"/><path d="M-31.69,-17.72C-31.26,-17.56 -31.14,-17.17 -29.10,-16.80C-27.06,-16.43 -22.62,-15.75 -19.45,-15.50C-16.29,-15.25 -11.87,-15.28 -10.10,-15.30C-8.34,-15.32 -9.08,-15.58 -8.87,-15.63"/><path d="M-31.98,11.79C-30.66,12.21 -26.72,13.79 -24.06,14.28C-21.41,14.78 -18.58,14.65 -16.03,14.76C-13.47,14.87 -9.95,14.90 -8.74,14.93"/><path d="M31.19,-18.58C30.84,-18.29 30.44,-18.38 29.10,-16.80C27.76,-15.22 24.95,-11.71 23.15,-9.10C21.35,-6.48 19.17,-2.64 18.30,-1.10C17.44,0.44 18.03,-0.07 17.97,0.13"/><path d="M5.78,-33.59C4.76,-32.66 1.42,-30.04 -0.34,-27.98C-2.09,-25.93 -3.40,-23.42 -4.77,-21.26C-6.14,-19.11 -7.93,-16.07 -8.56,-15.03"/></g>
<g id="sS2"><path d="M0.00,60.30C-0.17,58.87 -0.95,54.42 -1.00,51.70C-1.05,48.98 -0.62,46.12 -0.30,44.00C0.02,41.88 0.40,40.67 0.90,39.00C1.40,37.33 1.95,35.63 2.70,34.00C3.45,32.37 4.95,30.00 5.40,29.20"/><path d="M-52.22,-30.15C-50.90,-29.58 -46.65,-28.03 -44.27,-26.72C-41.90,-25.40 -39.63,-23.59 -37.96,-22.26C-36.28,-20.93 -35.42,-19.99 -34.22,-18.72C-33.03,-17.45 -31.83,-16.13 -30.79,-14.66C-29.76,-13.20 -28.46,-10.71 -27.99,-9.92"/><path d="M52.22,-30.15C51.06,-29.29 47.60,-26.39 45.27,-24.98C42.95,-23.58 40.25,-22.52 38.26,-21.74C36.26,-20.96 35.02,-20.68 33.32,-20.28C31.63,-19.88 29.88,-19.51 28.09,-19.34C26.31,-19.17 23.51,-19.29 22.59,-19.28"/></g>
<path id="sT2" d="M21.50,0.00C21.50,1.96 8.78,2.79 3.40,5.89C-1.97,8.99 -9.05,19.60 -10.75,18.62C-12.45,17.64 -6.80,6.21 -6.80,0.00C-6.80,-6.21 -12.45,-17.64 -10.75,-18.62C-9.05,-19.60 -1.98,-8.99 3.40,-5.89C8.78,-2.79 21.50,-1.96 21.50,0.00Z"/>
<path id="sC2" d="M2.70,34.00 L5.40,29.20 L9.00,25.90 L12.60,23.50 L17.10,21.80 L21.80,20.80 L26.80,20.80 L26.20,21.80 L24.40,13.70 L20.80,6.50 L17.30,0.10 L17.97,0.13 L18.30,-1.10 L23.15,-9.10 L29.10,-16.80 L31.19,-18.58 L28.09,-19.34 L22.59,-19.28 L17.93,-20.74 L14.05,-22.66 L10.33,-25.71 L7.11,-29.28 L4.61,-33.61 L5.78,-33.59 L-0.34,-27.98 L-4.77,-21.26 L-8.56,-15.03 L-8.87,-15.63 L-10.10,-15.30 L-19.45,-15.50 L-29.10,-16.80 L-31.69,-17.72 L-30.79,-14.66 L-27.99,-9.92 L-26.93,-5.16 L-26.65,-0.84 L-27.43,3.91 L-28.91,8.48 L-31.41,12.81 L-31.98,11.79 L-24.06,14.28 L-16.03,14.76 L-8.74,14.93 L-9.10,15.50 L-8.20,16.40 L-3.70,24.60 L-0.00,33.60 L0.50,36.30Z"/>
</defs>
<g clip-path="url(#hc2)">
<rect x="322.30" y="223.10" width="137.80" height="135.70" fill="#005ede"/>
<g transform="translate(391.60,290.60) scale(1.0000,-1.0000)">
<g filter="url(#hbb2)" fill="#000f8f">
<ellipse cx="-152.2" cy="0.0" rx="9.5" ry="14.5" transform="rotate(0 -152.2 0.0)"/>
<ellipse cx="-132.8" cy="-49.1" rx="9.5" ry="14.5" transform="rotate(60 -132.8 -49.1)"/>
<ellipse cx="-132.8" cy="49.1" rx="9.5" ry="14.5" transform="rotate(120 -132.8 49.1)"/>
<ellipse cx="-99.9" cy="-90.4" rx="9.5" ry="14.5" transform="rotate(0 -99.9 -90.4)"/>
<ellipse cx="-99.9" cy="90.4" rx="9.5" ry="14.5" transform="rotate(0 -99.9 90.4)"/>
<ellipse cx="-80.5" cy="-139.6" rx="9.5" ry="14.5" transform="rotate(60 -80.5 -139.6)"/>
<ellipse cx="-80.5" cy="-41.3" rx="9.5" ry="14.5" transform="rotate(120 -80.5 -41.3)"/>
<ellipse cx="-80.5" cy="41.3" rx="9.5" ry="14.5" transform="rotate(60 -80.5 41.3)"/>
<ellipse cx="-80.5" cy="139.6" rx="9.5" ry="14.5" transform="rotate(120 -80.5 139.6)"/>
<ellipse cx="-47.7" cy="0.0" rx="9.5" ry="14.5" transform="rotate(0 -47.7 0.0)"/>
<ellipse cx="-28.4" cy="-131.8" rx="9.5" ry="14.5" transform="rotate(120 -28.4 -131.8)"/>
<ellipse cx="-28.4" cy="-49.1" rx="9.5" ry="14.5" transform="rotate(60 -28.4 -49.1)"/>
<ellipse cx="-28.4" cy="49.1" rx="9.5" ry="14.5" transform="rotate(120 -28.4 49.1)"/>
<ellipse cx="-28.4" cy="131.8" rx="9.5" ry="14.5" transform="rotate(60 -28.4 131.8)"/>
<ellipse cx="4.5" cy="-90.4" rx="9.5" ry="14.5" transform="rotate(0 4.5 -90.4)"/>
<ellipse cx="4.5" cy="90.4" rx="9.5" ry="14.5" transform="rotate(0 4.5 90.4)"/>
<ellipse cx="23.9" cy="-139.6" rx="9.5" ry="14.5" transform="rotate(60 23.9 -139.6)"/>
<ellipse cx="23.9" cy="-41.3" rx="9.5" ry="14.5" transform="rotate(120 23.9 -41.3)"/>
<ellipse cx="23.9" cy="41.3" rx="9.5" ry="14.5" transform="rotate(60 23.9 41.3)"/>
<ellipse cx="23.9" cy="139.6" rx="9.5" ry="14.5" transform="rotate(120 23.9 139.6)"/>
<ellipse cx="56.7" cy="0.0" rx="9.5" ry="14.5" transform="rotate(0 56.7 0.0)"/>
<ellipse cx="76.0" cy="-131.8" rx="9.5" ry="14.5" transform="rotate(120 76.0 -131.8)"/>
<ellipse cx="76.0" cy="-49.1" rx="9.5" ry="14.5" transform="rotate(60 76.0 -49.1)"/>
<ellipse cx="76.0" cy="49.1" rx="9.5" ry="14.5" transform="rotate(120 76.0 49.1)"/>
<ellipse cx="76.0" cy="131.8" rx="9.5" ry="14.5" transform="rotate(60 76.0 131.8)"/>
<ellipse cx="108.9" cy="-90.4" rx="9.5" ry="14.5" transform="rotate(0 108.9 -90.4)"/>
<ellipse cx="108.9" cy="90.4" rx="9.5" ry="14.5" transform="rotate(0 108.9 90.4)"/>
<ellipse cx="128.3" cy="-41.3" rx="9.5" ry="14.5" transform="rotate(120 128.3 -41.3)"/>
<ellipse cx="128.3" cy="41.3" rx="9.5" ry="14.5" transform="rotate(60 128.3 41.3)"/>
<ellipse cx="161.2" cy="0.0" rx="9.5" ry="14.5" transform="rotate(0 161.2 0.0)"/>
</g>
<g filter="url(#hbw2)" fill="none" stroke-linecap="round" stroke-linejoin="round">
<g stroke="#0066e6" stroke-width="21.00"><use href="#sA2" x="0.00" y="0.00"/><use href="#sA2" x="104.44" y="0.00"/><use href="#sA2" x="52.22" y="90.45"/><use href="#sA2" x="-52.22" y="90.45"/><use href="#sA2" x="-104.44" y="0.00"/><use href="#sA2" x="-52.22" y="-90.45"/><use href="#sA2" x="52.22" y="-90.45"/></g>
<g stroke="#0080ff" stroke-width="16.60"><use href="#sA2" x="0.00" y="0.00"/><use href="#sA2" x="104.44" y="0.00"/><use href="#sA2" x="52.22" y="90.45"/><use href="#sA2" x="-52.22" y="90.45"/><use href="#sA2" x="-104.44" y="0.00"/><use href="#sA2" x="-52.22" y="-90.45"/><use href="#sA2" x="52.22" y="-90.45"/></g>
<g stroke="#3d9eff" stroke-width="14.40"><use href="#sA2" x="0.00" y="0.00"/><use href="#sA2" x="104.44" y="0.00"/><use href="#sA2" x="52.22" y="90.45"/><use href="#sA2" x="-52.22" y="90.45"/><use href="#sA2" x="-104.44" y="0.00"/><use href="#sA2" x="-52.22" y="-90.45"/><use href="#sA2" x="52.22" y="-90.45"/></g>
</g>
<filter id="hbc2" x="-60%" y="-60%" width="220%" height="220%" color-interpolation-filters="sRGB"><feGaussianBlur stdDeviation="3.00"/></filter>
<g filter="url(#hbc2)" fill="#99ccff" stroke="#99ccff" stroke-width="8.00" stroke-linejoin="round">
<use href="#sC2" x="0.00" y="0.00"/>
<use href="#sC2" x="104.44" y="0.00"/>
<use href="#sC2" x="52.22" y="90.45"/>
<use href="#sC2" x="-52.22" y="90.45"/>
<use href="#sC2" x="-104.44" y="0.00"/>
<use href="#sC2" x="-52.22" y="-90.45"/>
<use href="#sC2" x="52.22" y="-90.45"/>
</g>
<g filter="url(#hb2)" fill="none" stroke-linecap="round" stroke-linejoin="round">
<g stroke="#80bfff" stroke-width="12.20"><use href="#sA2" x="0.00" y="0.00"/><use href="#sA2" x="104.44" y="0.00"/><use href="#sA2" x="52.22" y="90.45"/><use href="#sA2" x="-52.22" y="90.45"/><use href="#sA2" x="-104.44" y="0.00"/><use href="#sA2" x="-52.22" y="-90.45"/><use href="#sA2" x="52.22" y="-90.45"/></g>
<g stroke="#ffffff" stroke-width="9.60"><use href="#sA2" x="0.00" y="0.00"/><use href="#sA2" x="104.44" y="0.00"/><use href="#sA2" x="52.22" y="90.45"/><use href="#sA2" x="-52.22" y="90.45"/><use href="#sA2" x="-104.44" y="0.00"/><use href="#sA2" x="-52.22" y="-90.45"/><use href="#sA2" x="52.22" y="-90.45"/></g>
<g stroke="#ffffff" stroke-width="10.00"><use href="#sS2" x="0.00" y="0.00"/><use href="#sS2" x="104.44" y="0.00"/><use href="#sS2" x="52.22" y="90.45"/><use href="#sS2" x="-52.22" y="90.45"/><use href="#sS2" x="-104.44" y="0.00"/><use href="#sS2" x="-52.22" y="-90.45"/><use href="#sS2" x="52.22" y="-90.45"/></g>
<g stroke="#ffd6d6" stroke-width="5.00"><use href="#sA2" x="0.00" y="0.00"/><use href="#sA2" x="104.44" y="0.00"/><use href="#sA2" x="52.22" y="90.45"/><use href="#sA2" x="-52.22" y="90.45"/><use href="#sA2" x="-104.44" y="0.00"/><use href="#sA2" x="-52.22" y="-90.45"/><use href="#sA2" x="52.22" y="-90.45"/></g>
<g stroke="#ffd1d1" stroke-width="5.60"><use href="#sS2" x="0.00" y="0.00"/><use href="#sS2" x="104.44" y="0.00"/><use href="#sS2" x="52.22" y="90.45"/><use href="#sS2" x="-52.22" y="90.45"/><use href="#sS2" x="-104.44" y="0.00"/><use href="#sS2" x="-52.22" y="-90.45"/><use href="#sS2" x="52.22" y="-90.45"/></g>
<g stroke="#ffadad" stroke-width="4.40"><use href="#sR2_0" x="0.00" y="0.00"/><use href="#sR2_0" x="104.44" y="0.00"/><use href="#sR2_0" x="52.22" y="90.45"/><use href="#sR2_0" x="-52.22" y="90.45"/><use href="#sR2_0" x="-104.44" y="0.00"/><use href="#sR2_0" x="-52.22" y="-90.45"/><use href="#sR2_0" x="52.22" y="-90.45"/></g>
<g stroke="#ffa3a3" stroke-width="2.20"><use href="#sS2" x="0.00" y="0.00"/><use href="#sS2" x="104.44" y="0.00"/><use href="#sS2" x="52.22" y="90.45"/><use href="#sS2" x="-52.22" y="90.45"/><use href="#sS2" x="-104.44" y="0.00"/><use href="#sS2" x="-52.22" y="-90.45"/><use href="#sS2" x="52.22" y="-90.45"/></g>
<g stroke="#ff9999" stroke-width="2.20"><use href="#sA2" x="0.00" y="0.00"/><use href="#sA2" x="104.44" y="0.00"/><use href="#sA2" x="52.22" y="90.45"/><use href="#sA2" x="-52.22" y="90.45"/><use href="#sA2" x="-104.44" y="0.00"/><use href="#sA2" x="-52.22" y="-90.45"/><use href="#sA2" x="52.22" y="-90.45"/></g>
<g stroke="#ff5252" stroke-width="3.00"><use href="#sR2_1" x="0.00" y="0.00"/></g>
<g stroke="#f20000" stroke-width="1.80"><use href="#sR2_2" x="0.00" y="0.00"/></g>
<path d="M52.40,31.00C52.53,32.50 52.83,36.83 53.20,40.00C53.57,43.17 54.05,47.00 54.60,50.00C55.15,53.00 55.77,55.33 56.50,58.00C57.23,60.67 58.58,64.67 59.00,66.00" stroke="#ffb8b8" stroke-width="3.60"/>
<path d="M52.40,31.00C52.53,32.50 52.83,36.83 53.20,40.00C53.57,43.17 54.05,47.00 54.60,50.00C55.15,53.00 55.77,55.33 56.50,58.00C57.23,60.67 58.58,64.67 59.00,66.00" stroke="#ff7a7a" stroke-width="2.00"/>
<path d="M53.20,40.00C53.43,41.67 54.05,47.00 54.60,50.00C55.15,53.00 56.18,56.67 56.50,58.00" stroke="#ff3333" stroke-width="1.00"/>
<path d="M52.40,-31.00C52.57,-32.50 52.97,-36.83 53.40,-40.00C53.83,-43.17 54.23,-47.00 55.00,-50.00C55.77,-53.00 56.83,-55.67 58.00,-58.00C59.17,-60.33 61.33,-63.00 62.00,-64.00" stroke="#ffb8b8" stroke-width="3.60"/>
<path d="M52.40,-31.00C52.57,-32.50 52.97,-36.83 53.40,-40.00C53.83,-43.17 54.23,-47.00 55.00,-50.00C55.77,-53.00 56.83,-55.67 58.00,-58.00C59.17,-60.33 61.33,-63.00 62.00,-64.00" stroke="#ff7a7a" stroke-width="2.00"/>
<path d="M53.40,-40.00C53.67,-41.67 54.23,-47.00 55.00,-50.00C55.77,-53.00 57.50,-56.67 58.00,-58.00" stroke="#ff3333" stroke-width="1.00"/>
<path d="M-52.30,31.00C-52.25,32.50 -52.22,36.83 -52.00,40.00C-51.78,43.17 -51.42,47.00 -51.00,50.00C-50.58,53.00 -50.33,55.33 -49.50,58.00C-48.67,60.67 -46.58,64.67 -46.00,66.00" stroke="#ffb8b8" stroke-width="3.60"/>
<path d="M-52.30,31.00C-52.25,32.50 -52.22,36.83 -52.00,40.00C-51.78,43.17 -51.42,47.00 -51.00,50.00C-50.58,53.00 -50.33,55.33 -49.50,58.00C-48.67,60.67 -46.58,64.67 -46.00,66.00" stroke="#ff7a7a" stroke-width="2.00"/>
<path d="M-52.00,40.00C-51.83,41.67 -51.42,47.00 -51.00,50.00C-50.58,53.00 -49.75,56.67 -49.50,58.00" stroke="#ff3333" stroke-width="1.00"/>
<path d="M-52.50,-31.00C-52.75,-32.50 -53.42,-36.83 -54.00,-40.00C-54.58,-43.17 -55.25,-47.00 -56.00,-50.00C-56.75,-53.00 -57.83,-55.33 -58.50,-58.00C-59.17,-60.67 -59.75,-64.67 -60.00,-66.00" stroke="#ffb8b8" stroke-width="3.60"/>
<path d="M-52.50,-31.00C-52.75,-32.50 -53.42,-36.83 -54.00,-40.00C-54.58,-43.17 -55.25,-47.00 -56.00,-50.00C-56.75,-53.00 -57.83,-55.33 -58.50,-58.00C-59.17,-60.67 -59.75,-64.67 -60.00,-66.00" stroke="#ff7a7a" stroke-width="2.00"/>
<path d="M-54.00,-40.00C-54.33,-41.67 -55.25,-47.00 -56.00,-50.00C-56.75,-53.00 -58.08,-56.67 -58.50,-58.00" stroke="#ff3333" stroke-width="1.00"/>
</g>
<g filter="url(#hbt2)" stroke-linejoin="round">
<g fill="#cce6ff" stroke="#cce6ff" stroke-width="11.00">
<use href="#sT2" x="0.00" y="0.00"/>
<use href="#sT2" x="104.44" y="0.00"/>
<use href="#sT2" x="52.22" y="90.45"/>
<use href="#sT2" x="-52.22" y="90.45"/>
<use href="#sT2" x="-104.44" y="0.00"/>
<use href="#sT2" x="-52.22" y="-90.45"/>
<use href="#sT2" x="52.22" y="-90.45"/>
</g>
<g fill="#e6f2ff" stroke="#e6f2ff" stroke-width="8.00">
<use href="#sT2" x="0.00" y="0.00"/>
<use href="#sT2" x="104.44" y="0.00"/>
<use href="#sT2" x="52.22" y="90.45"/>
<use href="#sT2" x="-52.22" y="90.45"/>
<use href="#sT2" x="-104.44" y="0.00"/>
<use href="#sT2" x="-52.22" y="-90.45"/>
<use href="#sT2" x="52.22" y="-90.45"/>
</g>
<g fill="#ffffff" stroke="#ffffff" stroke-width="5.40">
<use href="#sT2" x="0.00" y="0.00"/>
<use href="#sT2" x="104.44" y="0.00"/>
<use href="#sT2" x="52.22" y="90.45"/>
<use href="#sT2" x="-52.22" y="90.45"/>
<use href="#sT2" x="-104.44" y="0.00"/>
<use href="#sT2" x="-52.22" y="-90.45"/>
<use href="#sT2" x="52.22" y="-90.45"/>
</g>
<g fill="#ffdbdb" stroke="#ffdbdb" stroke-width="2.00">
<use href="#sT2" x="0.00" y="0.00"/>
<use href="#sT2" x="104.44" y="0.00"/>
<use href="#sT2" x="52.22" y="90.45"/>
<use href="#sT2" x="-52.22" y="90.45"/>
<use href="#sT2" x="-104.44" y="0.00"/>
<use href="#sT2" x="-52.22" y="-90.45"/>
<use href="#sT2" x="52.22" y="-90.45"/>
</g>
<g fill="#ffbdbd" stroke="#ffbdbd" stroke-width="0.00">
<use href="#sT2" x="0.00" y="0.00"/>
<use href="#sT2" x="104.44" y="0.00"/>
<use href="#sT2" x="52.22" y="90.45"/>
<use href="#sT2" x="-52.22" y="90.45"/>
<use href="#sT2" x="-104.44" y="0.00"/>
<use href="#sT2" x="-52.22" y="-90.45"/>
<use href="#sT2" x="52.22" y="-90.45"/>
</g>
</g>
<g filter="url(#hbd2)">
<circle cx="-7.60" cy="13.16" r="3.91" fill="#ffa0a0"/>
<circle cx="-7.60" cy="13.16" r="2.72" fill="#ff5151"/>
<circle cx="-7.60" cy="-13.16" r="3.91" fill="#ffa0a0"/>
<circle cx="-7.60" cy="-13.16" r="2.72" fill="#ff5151"/>
<circle cx="15.20" cy="-0.00" r="3.91" fill="#ffa0a0"/>
<circle cx="15.20" cy="-0.00" r="2.72" fill="#ff5151"/>
<circle cx="96.84" cy="13.16" r="3.91" fill="#ffa0a0"/>
<circle cx="96.84" cy="13.16" r="2.72" fill="#ff5151"/>
<circle cx="96.84" cy="-13.16" r="3.91" fill="#ffa0a0"/>
<circle cx="96.84" cy="-13.16" r="2.72" fill="#ff5151"/>
<circle cx="119.64" cy="-0.00" r="3.91" fill="#ffa0a0"/>
<circle cx="119.64" cy="-0.00" r="2.72" fill="#ff5151"/>
<circle cx="44.62" cy="103.61" r="3.91" fill="#ffa0a0"/>
<circle cx="44.62" cy="103.61" r="2.72" fill="#ff5151"/>
<circle cx="44.62" cy="77.29" r="3.91" fill="#ffa0a0"/>
<circle cx="44.62" cy="77.29" r="2.72" fill="#ff5151"/>
<circle cx="67.42" cy="90.45" r="3.91" fill="#ffa0a0"/>
<circle cx="67.42" cy="90.45" r="2.72" fill="#ff5151"/>
<circle cx="-59.82" cy="103.61" r="3.91" fill="#ffa0a0"/>
<circle cx="-59.82" cy="103.61" r="2.72" fill="#ff5151"/>
<circle cx="-59.82" cy="77.29" r="3.91" fill="#ffa0a0"/>
<circle cx="-59.82" cy="77.29" r="2.72" fill="#ff5151"/>
<circle cx="-37.02" cy="90.45" r="3.91" fill="#ffa0a0"/>
<circle cx="-37.02" cy="90.45" r="2.72" fill="#ff5151"/>
<circle cx="-112.04" cy="13.16" r="3.91" fill="#ffa0a0"/>
<circle cx="-112.04" cy="13.16" r="2.72" fill="#ff5151"/>
<circle cx="-112.04" cy="-13.16" r="3.91" fill="#ffa0a0"/>
<circle cx="-112.04" cy="-13.16" r="2.72" fill="#ff5151"/>
<circle cx="-89.24" cy="0.00" r="3.91" fill="#ffa0a0"/>
<circle cx="-89.24" cy="0.00" r="2.72" fill="#ff5151"/>
<circle cx="-59.82" cy="-77.29" r="3.91" fill="#ffa0a0"/>
<circle cx="-59.82" cy="-77.29" r="2.72" fill="#ff5151"/>
<circle cx="-59.82" cy="-103.61" r="3.91" fill="#ffa0a0"/>
<circle cx="-59.82" cy="-103.61" r="2.72" fill="#ff5151"/>
<circle cx="-37.02" cy="-90.45" r="3.91" fill="#ffa0a0"/>
<circle cx="-37.02" cy="-90.45" r="2.72" fill="#ff5151"/>
<circle cx="44.62" cy="-77.29" r="3.91" fill="#ffa0a0"/>
<circle cx="44.62" cy="-77.29" r="2.72" fill="#ff5151"/>
<circle cx="44.62" cy="-103.61" r="3.91" fill="#ffa0a0"/>
<circle cx="44.62" cy="-103.61" r="2.72" fill="#ff5151"/>
<circle cx="67.42" cy="-90.45" r="3.91" fill="#ffa0a0"/>
<circle cx="67.42" cy="-90.45" r="2.72" fill="#ff5151"/>
<circle cx="-7.60" cy="13.16" r="1.70" fill="#e00000"/>
<circle cx="-7.60" cy="-13.16" r="1.70" fill="#e00000"/>
<circle cx="15.20" cy="-0.00" r="1.70" fill="#e00000"/>
<circle cx="52.22" cy="30.15" r="1.70" fill="#f00000"/>
<circle cx="0.00" cy="60.30" r="1.70" fill="#f00000"/>
<circle cx="-52.22" cy="30.15" r="1.70" fill="#f00000"/>
<circle cx="-52.22" cy="-30.15" r="1.70" fill="#f00000"/>
<circle cx="-0.00" cy="-60.30" r="1.70" fill="#f00000"/>
<circle cx="52.22" cy="-30.15" r="1.70" fill="#f00000"/>
<circle cx="96.84" cy="13.16" r="1.70" fill="#e00000"/>
<circle cx="96.84" cy="-13.16" r="1.70" fill="#e00000"/>
<circle cx="119.64" cy="-0.00" r="1.70" fill="#e00000"/>
<circle cx="156.66" cy="30.15" r="1.70" fill="#f00000"/>
<circle cx="104.44" cy="60.30" r="1.70" fill="#f00000"/>
<circle cx="52.22" cy="30.15" r="1.70" fill="#f00000"/>
<circle cx="52.22" cy="-30.15" r="1.70" fill="#f00000"/>
<circle cx="104.44" cy="-60.30" r="1.70" fill="#f00000"/>
<circle cx="156.66" cy="-30.15" r="1.70" fill="#f00000"/>
<circle cx="44.62" cy="103.61" r="1.70" fill="#e00000"/>
<circle cx="44.62" cy="77.29" r="1.70" fill="#e00000"/>
<circle cx="67.42" cy="90.45" r="1.70" fill="#e00000"/>
<circle cx="104.44" cy="120.60" r="1.70" fill="#f00000"/>
<circle cx="52.22" cy="150.75" r="1.70" fill="#f00000"/>
<circle cx="0.00" cy="120.60" r="1.70" fill="#f00000"/>
<circle cx="0.00" cy="60.30" r="1.70" fill="#f00000"/>
<circle cx="52.22" cy="30.15" r="1.70" fill="#f00000"/>
<circle cx="104.44" cy="60.30" r="1.70" fill="#f00000"/>
<circle cx="-59.82" cy="103.61" r="1.70" fill="#e00000"/>
<circle cx="-59.82" cy="77.29" r="1.70" fill="#e00000"/>
<circle cx="-37.02" cy="90.45" r="1.70" fill="#e00000"/>
<circle cx="0.00" cy="120.60" r="1.70" fill="#f00000"/>
<circle cx="-52.22" cy="150.75" r="1.70" fill="#f00000"/>
<circle cx="-104.44" cy="120.60" r="1.70" fill="#f00000"/>
<circle cx="-104.44" cy="60.30" r="1.70" fill="#f00000"/>
<circle cx="-52.22" cy="30.15" r="1.70" fill="#f00000"/>
<circle cx="0.00" cy="60.30" r="1.70" fill="#f00000"/>
<circle cx="-112.04" cy="13.16" r="1.70" fill="#e00000"/>
<circle cx="-112.04" cy="-13.16" r="1.70" fill="#e00000"/>
<circle cx="-89.24" cy="0.00" r="1.70" fill="#e00000"/>
<circle cx="-52.22" cy="30.15" r="1.70" fill="#f00000"/>
<circle cx="-104.44" cy="60.30" r="1.70" fill="#f00000"/>
<circle cx="-156.66" cy="30.15" r="1.70" fill="#f00000"/>
<circle cx="-156.66" cy="-30.15" r="1.70" fill="#f00000"/>
<circle cx="-104.44" cy="-60.30" r="1.70" fill="#f00000"/>
<circle cx="-52.22" cy="-30.15" r="1.70" fill="#f00000"/>
<circle cx="-59.82" cy="-77.29" r="1.70" fill="#e00000"/>
<circle cx="-59.82" cy="-103.61" r="1.70" fill="#e00000"/>
<circle cx="-37.02" cy="-90.45" r="1.70" fill="#e00000"/>
<circle cx="-0.00" cy="-60.30" r="1.70" fill="#f00000"/>
<circle cx="-52.22" cy="-30.15" r="1.70" fill="#f00000"/>
<circle cx="-104.44" cy="-60.30" r="1.70" fill="#f00000"/>
<circle cx="-104.44" cy="-120.60" r="1.70" fill="#f00000"/>
<circle cx="-52.22" cy="-150.75" r="1.70" fill="#f00000"/>
<circle cx="-0.00" cy="-120.60" r="1.70" fill="#f00000"/>
<circle cx="44.62" cy="-77.29" r="1.70" fill="#e00000"/>
<circle cx="44.62" cy="-103.61" r="1.70" fill="#e00000"/>
<circle cx="67.42" cy="-90.45" r="1.70" fill="#e00000"/>
<circle cx="104.44" cy="-60.30" r="1.70" fill="#f00000"/>
<circle cx="52.22" cy="-30.15" r="1.70" fill="#f00000"/>
<circle cx="0.00" cy="-60.30" r="1.70" fill="#f00000"/>
<circle cx="0.00" cy="-120.60" r="1.70" fill="#f00000"/>
<circle cx="52.22" cy="-150.75" r="1.70" fill="#f00000"/>
<circle cx="104.44" cy="-120.60" r="1.70" fill="#f00000"/>
</g>
</g>
</g>
<polygon points="391.60,230.30 339.38,260.45 339.38,320.75 391.60,350.90 443.82,320.75 443.82,260.45" fill="none" stroke="#ececf6" stroke-width="0.75" stroke-dasharray="7.600,7.475" stroke-dashoffset="3.800"/>
<defs><linearGradient id="cb2" x1="0" y1="0" x2="0" y2="1"><stop offset="0.0000" stop-color="#800000"/><stop offset="0.3728" stop-color="#ff0000"/><stop offset="0.7456" stop-color="#ffffff"/><stop offset="0.8728" stop-color="#0080ff"/><stop offset="1.0000" stop-color="#000080"/></linearGradient></defs>
<rect x="458.00" y="228.10" width="6.70" height="125.70" fill="url(#cb2)"/>
<g stroke="#333" stroke-width="0.5">
<line x1="463.50" y1="232.67" x2="464.70" y2="232.67"/>
<line x1="463.50" y1="254.96" x2="464.70" y2="254.96"/>
<line x1="463.50" y1="277.24" x2="464.70" y2="277.24"/>
<line x1="463.50" y1="299.53" x2="464.70" y2="299.53"/>
<line x1="463.50" y1="321.82" x2="464.70" y2="321.82"/>
<line x1="463.50" y1="344.11" x2="464.70" y2="344.11"/>
</g>
<g font-family="Liberation Sans, sans-serif" font-size="9.0" fill="#1c1c1c" stroke="#1c1c1c" stroke-width="0.15">
<text x="466.90" y="235.82">8</text>
<text x="466.90" y="258.11">6</text>
<text x="466.90" y="280.39">4</text>
<text x="466.90" y="302.68">2</text>
<text x="466.90" y="324.97">0</text>
<text x="465.90" y="347.26">-2</text>
</g>
<text x="461.90" y="223.50" font-family="Liberation Serif, serif" font-size="11.3" fill="#111" text-anchor="middle">log(Tr[<tspan font-style="italic">G</tspan>])</text>
<defs>
<clipPath id="hc3"><rect x="522.70" y="223.20" width="132.10" height="132.00"/></clipPath>
<filter id="h3a" x="-60%" y="-60%" width="220%" height="220%" color-interpolation-filters="sRGB"><feGaussianBlur stdDeviation="4.50"/></filter>
<filter id="h3b" x="-60%" y="-60%" width="220%" height="220%" color-interpolation-filters="sRGB"><feGaussianBlur stdDeviation="2.60"/></filter>
<filter id="h3c" x="-60%" y="-60%" width="220%" height="220%" color-interpolation-filters="sRGB"><feGaussianBlur stdDeviation="0.90"/></filter>
<filter id="h3d" x="-60%" y="-60%" width="220%" height="220%" color-interpolation-filters="sRGB"><feGaussianBlur stdDeviation="5.50"/></filter>
</defs>
<g clip-path="url(#hc3)">
<rect x="517.70" y="218.20" width="142.10" height="142.00" fill="#005cdb"/>
<g transform="translate(588.50,288.40) scale(1,-1)">
<g filter="url(#h3d)" fill="#000080">
<circle cx="16.0" cy="27.7" r="11"/>
<circle cx="-26.3" cy="39.0" r="8.5"/>
<circle cx="-32.0" cy="0.0" r="11"/>
<circle cx="-20.6" cy="-42.2" r="8.5"/>
<circle cx="16.0" cy="-27.7" r="11"/>
<circle cx="46.9" cy="3.3" r="8.5"/>
<circle cx="119.9" cy="27.7" r="11"/>
<circle cx="77.6" cy="39.0" r="8.5"/>
<circle cx="71.9" cy="0.0" r="11"/>
<circle cx="83.3" cy="-42.2" r="8.5"/>
<circle cx="119.9" cy="-27.7" r="11"/>
<circle cx="150.8" cy="3.3" r="8.5"/>
<circle cx="68.0" cy="117.7" r="11"/>
<circle cx="25.7" cy="129.0" r="8.5"/>
<circle cx="20.0" cy="90.0" r="11"/>
<circle cx="31.4" cy="47.8" r="8.5"/>
<circle cx="68.0" cy="62.3" r="11"/>
<circle cx="98.8" cy="93.3" r="8.5"/>
<circle cx="-36.0" cy="117.7" r="11"/>
<circle cx="-78.2" cy="129.0" r="8.5"/>
<circle cx="-84.0" cy="90.0" r="11"/>
<circle cx="-72.6" cy="47.8" r="8.5"/>
<circle cx="-36.0" cy="62.3" r="11"/>
<circle cx="-5.1" cy="93.3" r="8.5"/>
<circle cx="-87.9" cy="27.7" r="11"/>
<circle cx="-130.2" cy="39.0" r="8.5"/>
<circle cx="-135.9" cy="0.0" r="11"/>
<circle cx="-124.5" cy="-42.2" r="8.5"/>
<circle cx="-87.9" cy="-27.7" r="11"/>
<circle cx="-57.0" cy="3.3" r="8.5"/>
<circle cx="-36.0" cy="-62.3" r="11"/>
<circle cx="-78.2" cy="-51.0" r="8.5"/>
<circle cx="-84.0" cy="-90.0" r="11"/>
<circle cx="-72.6" cy="-132.2" r="8.5"/>
<circle cx="-36.0" cy="-117.7" r="11"/>
<circle cx="-5.1" cy="-86.7" r="8.5"/>
<circle cx="68.0" cy="-62.3" r="11"/>
<circle cx="25.7" cy="-51.0" r="8.5"/>
<circle cx="20.0" cy="-90.0" r="11"/>
<circle cx="31.4" cy="-132.2" r="8.5"/>
<circle cx="68.0" cy="-117.7" r="11"/>
<circle cx="98.8" cy="-86.7" r="8.5"/>
</g>
<g filter="url(#h3a)" stroke="#5cadff" stroke-width="8.5" stroke-linecap="round" fill="none">
<line x1="0.0" y1="10.0" x2="-4.3" y2="61.8"/>
<line x1="-8.7" y1="-5.0" x2="-51.4" y2="-34.7"/>
<line x1="8.7" y1="-5.0" x2="55.7" y2="-27.2"/>
<line x1="103.9" y1="10.0" x2="99.6" y2="61.8"/>
<line x1="95.3" y1="-5.0" x2="52.5" y2="-34.7"/>
<line x1="112.6" y1="-5.0" x2="159.6" y2="-27.2"/>
<line x1="52.0" y1="100.0" x2="47.6" y2="151.8"/>
<line x1="43.3" y1="85.0" x2="0.6" y2="55.3"/>
<line x1="60.6" y1="85.0" x2="107.7" y2="62.8"/>
<line x1="-52.0" y1="100.0" x2="-56.3" y2="151.8"/>
<line x1="-60.6" y1="85.0" x2="-103.4" y2="55.3"/>
<line x1="-43.3" y1="85.0" x2="3.8" y2="62.8"/>
<line x1="-103.9" y1="10.0" x2="-108.2" y2="61.8"/>
<line x1="-112.6" y1="-5.0" x2="-155.3" y2="-34.7"/>
<line x1="-95.3" y1="-5.0" x2="-48.2" y2="-27.2"/>
<line x1="-52.0" y1="-80.0" x2="-56.3" y2="-28.2"/>
<line x1="-60.6" y1="-95.0" x2="-103.4" y2="-124.7"/>
<line x1="-43.3" y1="-95.0" x2="3.8" y2="-117.2"/>
<line x1="52.0" y1="-80.0" x2="47.6" y2="-28.2"/>
<line x1="43.3" y1="-95.0" x2="0.6" y2="-124.7"/>
<line x1="60.6" y1="-95.0" x2="107.7" y2="-117.2"/>
</g>
<g stroke-linejoin="round">
<path d="M9.66,-2.59C12.04,-2.12 15.27,-2.15 16.91,-1.78C18.55,-1.40 19.49,-0.83 19.50,-0.34C19.51,0.15 18.58,0.75 16.96,1.19C15.33,1.62 12.16,1.66 9.74,2.25C7.33,2.84 4.70,3.53 2.45,4.70C0.20,5.87 -1.88,7.63 -3.75,9.27C-5.61,10.92 -7.47,13.49 -8.76,14.57C-10.04,15.66 -11.06,16.07 -11.46,15.78C-11.86,15.49 -11.79,14.39 -11.15,12.83C-10.52,11.27 -8.64,8.62 -7.66,6.43C-6.68,4.24 -5.43,1.97 -5.29,-0.32C-5.15,-2.61 -6.12,-5.02 -6.82,-7.31C-7.52,-9.61 -9.07,-12.47 -9.51,-14.09C-9.95,-15.72 -9.89,-16.82 -9.45,-17.06C-9.02,-17.29 -8.06,-16.76 -6.91,-15.53C-5.77,-14.30 -4.18,-11.48 -2.59,-9.66C-0.99,-7.84 0.61,-5.77 2.65,-4.59C4.69,-3.41 7.28,-3.06 9.66,-2.59Z" fill="#1f8fff" stroke="#1f8fff" stroke-width="30" filter="url(#h3a)"/>
<path d="M9.66,-2.59C12.04,-2.12 15.27,-2.15 16.91,-1.78C18.55,-1.40 19.49,-0.83 19.50,-0.34C19.51,0.15 18.58,0.75 16.96,1.19C15.33,1.62 12.16,1.66 9.74,2.25C7.33,2.84 4.70,3.53 2.45,4.70C0.20,5.87 -1.88,7.63 -3.75,9.27C-5.61,10.92 -7.47,13.49 -8.76,14.57C-10.04,15.66 -11.06,16.07 -11.46,15.78C-11.86,15.49 -11.79,14.39 -11.15,12.83C-10.52,11.27 -8.64,8.62 -7.66,6.43C-6.68,4.24 -5.43,1.97 -5.29,-0.32C-5.15,-2.61 -6.12,-5.02 -6.82,-7.31C-7.52,-9.61 -9.07,-12.47 -9.51,-14.09C-9.95,-15.72 -9.89,-16.82 -9.45,-17.06C-9.02,-17.29 -8.06,-16.76 -6.91,-15.53C-5.77,-14.30 -4.18,-11.48 -2.59,-9.66C-0.99,-7.84 0.61,-5.77 2.65,-4.59C4.69,-3.41 7.28,-3.06 9.66,-2.59Z" fill="#75baff" stroke="#75baff" stroke-width="15" filter="url(#h3b)"/>
<g filter="url(#h3c)">
<path d="M9.66,-2.59C12.04,-2.12 15.27,-2.15 16.91,-1.78C18.55,-1.40 19.49,-0.83 19.50,-0.34C19.51,0.15 18.58,0.75 16.96,1.19C15.33,1.62 12.16,1.66 9.74,2.25C7.33,2.84 4.70,3.53 2.45,4.70C0.20,5.87 -1.88,7.63 -3.75,9.27C-5.61,10.92 -7.47,13.49 -8.76,14.57C-10.04,15.66 -11.06,16.07 -11.46,15.78C-11.86,15.49 -11.79,14.39 -11.15,12.83C-10.52,11.27 -8.64,8.62 -7.66,6.43C-6.68,4.24 -5.43,1.97 -5.29,-0.32C-5.15,-2.61 -6.12,-5.02 -6.82,-7.31C-7.52,-9.61 -9.07,-12.47 -9.51,-14.09C-9.95,-15.72 -9.89,-16.82 -9.45,-17.06C-9.02,-17.29 -8.06,-16.76 -6.91,-15.53C-5.77,-14.30 -4.18,-11.48 -2.59,-9.66C-0.99,-7.84 0.61,-5.77 2.65,-4.59C4.69,-3.41 7.28,-3.06 9.66,-2.59Z" fill="#a3d1ff" stroke="#a3d1ff" stroke-width="10.5"/>
<path d="M9.66,-2.59C12.04,-2.12 15.27,-2.15 16.91,-1.78C18.55,-1.40 19.49,-0.83 19.50,-0.34C19.51,0.15 18.58,0.75 16.96,1.19C15.33,1.62 12.16,1.66 9.74,2.25C7.33,2.84 4.70,3.53 2.45,4.70C0.20,5.87 -1.88,7.63 -3.75,9.27C-5.61,10.92 -7.47,13.49 -8.76,14.57C-10.04,15.66 -11.06,16.07 -11.46,15.78C-11.86,15.49 -11.79,14.39 -11.15,12.83C-10.52,11.27 -8.64,8.62 -7.66,6.43C-6.68,4.24 -5.43,1.97 -5.29,-0.32C-5.15,-2.61 -6.12,-5.02 -6.82,-7.31C-7.52,-9.61 -9.07,-12.47 -9.51,-14.09C-9.95,-15.72 -9.89,-16.82 -9.45,-17.06C-9.02,-17.29 -8.06,-16.76 -6.91,-15.53C-5.77,-14.30 -4.18,-11.48 -2.59,-9.66C-0.99,-7.84 0.61,-5.77 2.65,-4.59C4.69,-3.41 7.28,-3.06 9.66,-2.59Z" fill="#d6ebff" stroke="#d6ebff" stroke-width="8.4"/>
<path d="M9.66,-2.59C12.04,-2.12 15.27,-2.15 16.91,-1.78C18.55,-1.40 19.49,-0.83 19.50,-0.34C19.51,0.15 18.58,0.75 16.96,1.19C15.33,1.62 12.16,1.66 9.74,2.25C7.33,2.84 4.70,3.53 2.45,4.70C0.20,5.87 -1.88,7.63 -3.75,9.27C-5.61,10.92 -7.47,13.49 -8.76,14.57C-10.04,15.66 -11.06,16.07 -11.46,15.78C-11.86,15.49 -11.79,14.39 -11.15,12.83C-10.52,11.27 -8.64,8.62 -7.66,6.43C-6.68,4.24 -5.43,1.97 -5.29,-0.32C-5.15,-2.61 -6.12,-5.02 -6.82,-7.31C-7.52,-9.61 -9.07,-12.47 -9.51,-14.09C-9.95,-15.72 -9.89,-16.82 -9.45,-17.06C-9.02,-17.29 -8.06,-16.76 -6.91,-15.53C-5.77,-14.30 -4.18,-11.48 -2.59,-9.66C-0.99,-7.84 0.61,-5.77 2.65,-4.59C4.69,-3.41 7.28,-3.06 9.66,-2.59Z" fill="#ffffff" stroke="#ffffff" stroke-width="6.4"/>
<path d="M9.66,-2.59C12.04,-2.12 15.27,-2.15 16.91,-1.78C18.55,-1.40 19.49,-0.83 19.50,-0.34C19.51,0.15 18.58,0.75 16.96,1.19C15.33,1.62 12.16,1.66 9.74,2.25C7.33,2.84 4.70,3.53 2.45,4.70C0.20,5.87 -1.88,7.63 -3.75,9.27C-5.61,10.92 -7.47,13.49 -8.76,14.57C-10.04,15.66 -11.06,16.07 -11.46,15.78C-11.86,15.49 -11.79,14.39 -11.15,12.83C-10.52,11.27 -8.64,8.62 -7.66,6.43C-6.68,4.24 -5.43,1.97 -5.29,-0.32C-5.15,-2.61 -6.12,-5.02 -6.82,-7.31C-7.52,-9.61 -9.07,-12.47 -9.51,-14.09C-9.95,-15.72 -9.89,-16.82 -9.45,-17.06C-9.02,-17.29 -8.06,-16.76 -6.91,-15.53C-5.77,-14.30 -4.18,-11.48 -2.59,-9.66C-0.99,-7.84 0.61,-5.77 2.65,-4.59C4.69,-3.41 7.28,-3.06 9.66,-2.59Z" fill="#ffc2c2" stroke="#ffc2c2" stroke-width="3.6"/>
<path d="M9.66,-2.59C12.04,-2.12 15.27,-2.15 16.91,-1.78C18.55,-1.40 19.49,-0.83 19.50,-0.34C19.51,0.15 18.58,0.75 16.96,1.19C15.33,1.62 12.16,1.66 9.74,2.25C7.33,2.84 4.70,3.53 2.45,4.70C0.20,5.87 -1.88,7.63 -3.75,9.27C-5.61,10.92 -7.47,13.49 -8.76,14.57C-10.04,15.66 -11.06,16.07 -11.46,15.78C-11.86,15.49 -11.79,14.39 -11.15,12.83C-10.52,11.27 -8.64,8.62 -7.66,6.43C-6.68,4.24 -5.43,1.97 -5.29,-0.32C-5.15,-2.61 -6.12,-5.02 -6.82,-7.31C-7.52,-9.61 -9.07,-12.47 -9.51,-14.09C-9.95,-15.72 -9.89,-16.82 -9.45,-17.06C-9.02,-17.29 -8.06,-16.76 -6.91,-15.53C-5.77,-14.30 -4.18,-11.48 -2.59,-9.66C-0.99,-7.84 0.61,-5.77 2.65,-4.59C4.69,-3.41 7.28,-3.06 9.66,-2.59Z" fill="#ff6666" stroke="#ff6666" stroke-width="2.0"/>
<path d="M9.66,-2.59C12.04,-2.12 15.27,-2.15 16.91,-1.78C18.55,-1.40 19.49,-0.83 19.50,-0.34C19.51,0.15 18.58,0.75 16.96,1.19C15.33,1.62 12.16,1.66 9.74,2.25C7.33,2.84 4.70,3.53 2.45,4.70C0.20,5.87 -1.88,7.63 -3.75,9.27C-5.61,10.92 -7.47,13.49 -8.76,14.57C-10.04,15.66 -11.06,16.07 -11.46,15.78C-11.86,15.49 -11.79,14.39 -11.15,12.83C-10.52,11.27 -8.64,8.62 -7.66,6.43C-6.68,4.24 -5.43,1.97 -5.29,-0.32C-5.15,-2.61 -6.12,-5.02 -6.82,-7.31C-7.52,-9.61 -9.07,-12.47 -9.51,-14.09C-9.95,-15.72 -9.89,-16.82 -9.45,-17.06C-9.02,-17.29 -8.06,-16.76 -6.91,-15.53C-5.77,-14.30 -4.18,-11.48 -2.59,-9.66C-0.99,-7.84 0.61,-5.77 2.65,-4.59C4.69,-3.41 7.28,-3.06 9.66,-2.59Z" fill="#ff1919" stroke="#ff1919" stroke-width="0.6"/>
<path d="M7.92,-2.12C9.87,-1.74 12.52,-1.76 13.86,-1.46C15.21,-1.15 15.98,-0.68 15.99,-0.28C15.99,0.13 15.24,0.62 13.91,0.97C12.57,1.33 9.97,1.36 7.99,1.84C6.01,2.33 3.85,2.90 2.01,3.85C0.16,4.81 -1.54,6.25 -3.07,7.60C-4.60,8.95 -6.13,11.06 -7.18,11.95C-8.23,12.84 -9.07,13.17 -9.40,12.94C-9.73,12.70 -9.66,11.80 -9.15,10.52C-8.63,9.24 -7.08,7.07 -6.28,5.27C-5.48,3.47 -4.45,1.61 -4.34,-0.27C-4.22,-2.14 -5.02,-4.12 -5.59,-6.00C-6.17,-7.88 -7.44,-10.23 -7.80,-11.56C-8.16,-12.89 -8.11,-13.79 -7.75,-13.99C-7.40,-14.18 -6.61,-13.75 -5.67,-12.73C-4.73,-11.72 -3.43,-9.42 -2.12,-7.92C-0.82,-6.43 0.50,-4.73 2.17,-3.76C3.85,-2.80 5.97,-2.51 7.92,-2.12Z" fill="#fa0000"/>
<path d="M5.80,-1.55C7.22,-1.27 9.16,-1.29 10.14,-1.07C11.13,-0.84 11.69,-0.50 11.70,-0.20C11.70,0.09 11.15,0.45 10.18,0.71C9.20,0.97 7.30,1.00 5.85,1.35C4.40,1.70 2.82,2.12 1.47,2.82C0.12,3.52 -1.13,4.58 -2.25,5.56C-3.37,6.55 -4.48,8.09 -5.25,8.74C-6.02,9.39 -6.64,9.64 -6.88,9.47C-7.12,9.29 -7.07,8.63 -6.69,7.70C-6.31,6.76 -5.18,5.17 -4.60,3.86C-4.01,2.54 -3.26,1.18 -3.17,-0.19C-3.09,-1.57 -3.67,-3.01 -4.09,-4.39C-4.51,-5.77 -5.44,-7.48 -5.70,-8.46C-5.97,-9.43 -5.93,-10.09 -5.67,-10.23C-5.41,-10.38 -4.84,-10.06 -4.15,-9.32C-3.46,-8.58 -2.51,-6.89 -1.55,-5.80C-0.60,-4.70 0.37,-3.46 1.59,-2.75C2.81,-2.05 4.37,-1.83 5.80,-1.55Z" fill="#e00000"/>
<path d="M4.06,-1.09C5.05,-0.89 6.41,-0.90 7.10,-0.75C7.79,-0.59 8.19,-0.35 8.19,-0.14C8.19,0.06 7.81,0.32 7.12,0.50C6.44,0.68 5.11,0.70 4.09,0.94C3.08,1.19 1.97,1.48 1.03,1.97C0.08,2.47 -0.79,3.20 -1.57,3.89C-2.36,4.59 -3.14,5.66 -3.68,6.12C-4.22,6.58 -4.65,6.75 -4.81,6.63C-4.98,6.50 -4.95,6.04 -4.68,5.39C-4.42,4.73 -3.63,3.62 -3.22,2.70C-2.81,1.78 -2.28,0.83 -2.22,-0.14C-2.16,-1.10 -2.57,-2.11 -2.86,-3.07C-3.16,-4.04 -3.81,-5.24 -3.99,-5.92C-4.18,-6.60 -4.15,-7.06 -3.97,-7.16C-3.79,-7.26 -3.38,-7.04 -2.90,-6.52C-2.42,-6.01 -1.76,-4.82 -1.09,-4.06C-0.42,-3.29 0.26,-2.42 1.11,-1.93C1.97,-1.43 3.06,-1.28 4.06,-1.09Z" fill="#b80000"/>
<path d="M2.51,-0.67C3.13,-0.55 3.97,-0.56 4.40,-0.46C4.82,-0.36 5.07,-0.22 5.07,-0.09C5.07,0.04 4.83,0.20 4.41,0.31C3.99,0.42 3.16,0.43 2.53,0.58C1.90,0.74 1.22,0.92 0.64,1.22C0.05,1.53 -0.49,1.98 -0.97,2.41C-1.46,2.84 -1.94,3.51 -2.28,3.79C-2.61,4.07 -2.88,4.18 -2.98,4.10C-3.08,4.03 -3.06,3.74 -2.90,3.34C-2.74,2.93 -2.25,2.24 -1.99,1.67C-1.74,1.10 -1.41,0.51 -1.38,-0.08C-1.34,-0.68 -1.59,-1.30 -1.77,-1.90C-1.96,-2.50 -2.36,-3.24 -2.47,-3.66C-2.59,-4.09 -2.57,-4.37 -2.46,-4.43C-2.35,-4.50 -2.10,-4.36 -1.80,-4.04C-1.50,-3.72 -1.09,-2.99 -0.67,-2.51C-0.26,-2.04 0.16,-1.50 0.69,-1.19C1.22,-0.89 1.89,-0.79 2.51,-0.67Z" fill="#8c0000"/>
</g>
</g>
</g></g>
<polygon points="588.10,228.80 535.97,258.90 535.97,319.10 588.10,349.20 640.23,319.10 640.23,258.90" fill="none" stroke="#dfe3f3" stroke-width="0.75" stroke-dasharray="7.600,7.450" stroke-dashoffset="3.800"/>
<defs><linearGradient id="cb3" x1="0" y1="0" x2="0" y2="1"><stop offset="0.0000" stop-color="#800000"/><stop offset="0.2913" stop-color="#ff0000"/><stop offset="0.5825" stop-color="#ffffff"/><stop offset="0.7913" stop-color="#0080ff"/><stop offset="1.0000" stop-color="#000080"/></linearGradient></defs>
<rect x="658.00" y="223.20" width="5.90" height="132.00" fill="url(#cb3)"/>
<g stroke="#333" stroke-width="0.5">
<line x1="662.70" y1="230.70" x2="663.90" y2="230.70"/>
<line x1="662.70" y1="265.40" x2="663.90" y2="265.40"/>
<line x1="662.70" y1="300.10" x2="663.90" y2="300.10"/>
<line x1="662.70" y1="334.80" x2="663.90" y2="334.80"/>
</g>
<g font-family="Liberation Sans, sans-serif" font-size="9.0" fill="#1c1c1c" stroke="#1c1c1c" stroke-width="0.15">
<text x="666.10" y="233.85">2</text>
<text x="666.10" y="268.55">1</text>
<text x="666.10" y="303.25">0</text>
<text x="665.10" y="337.95">-1</text>
</g>
<text x="649.00" y="218.60" font-family="Liberation Serif, serif" font-size="11.3" fill="#111" text-anchor="middle">log(Tr[<tspan font-style="italic">G</tspan>])</text>
</svg>
</body></html>
